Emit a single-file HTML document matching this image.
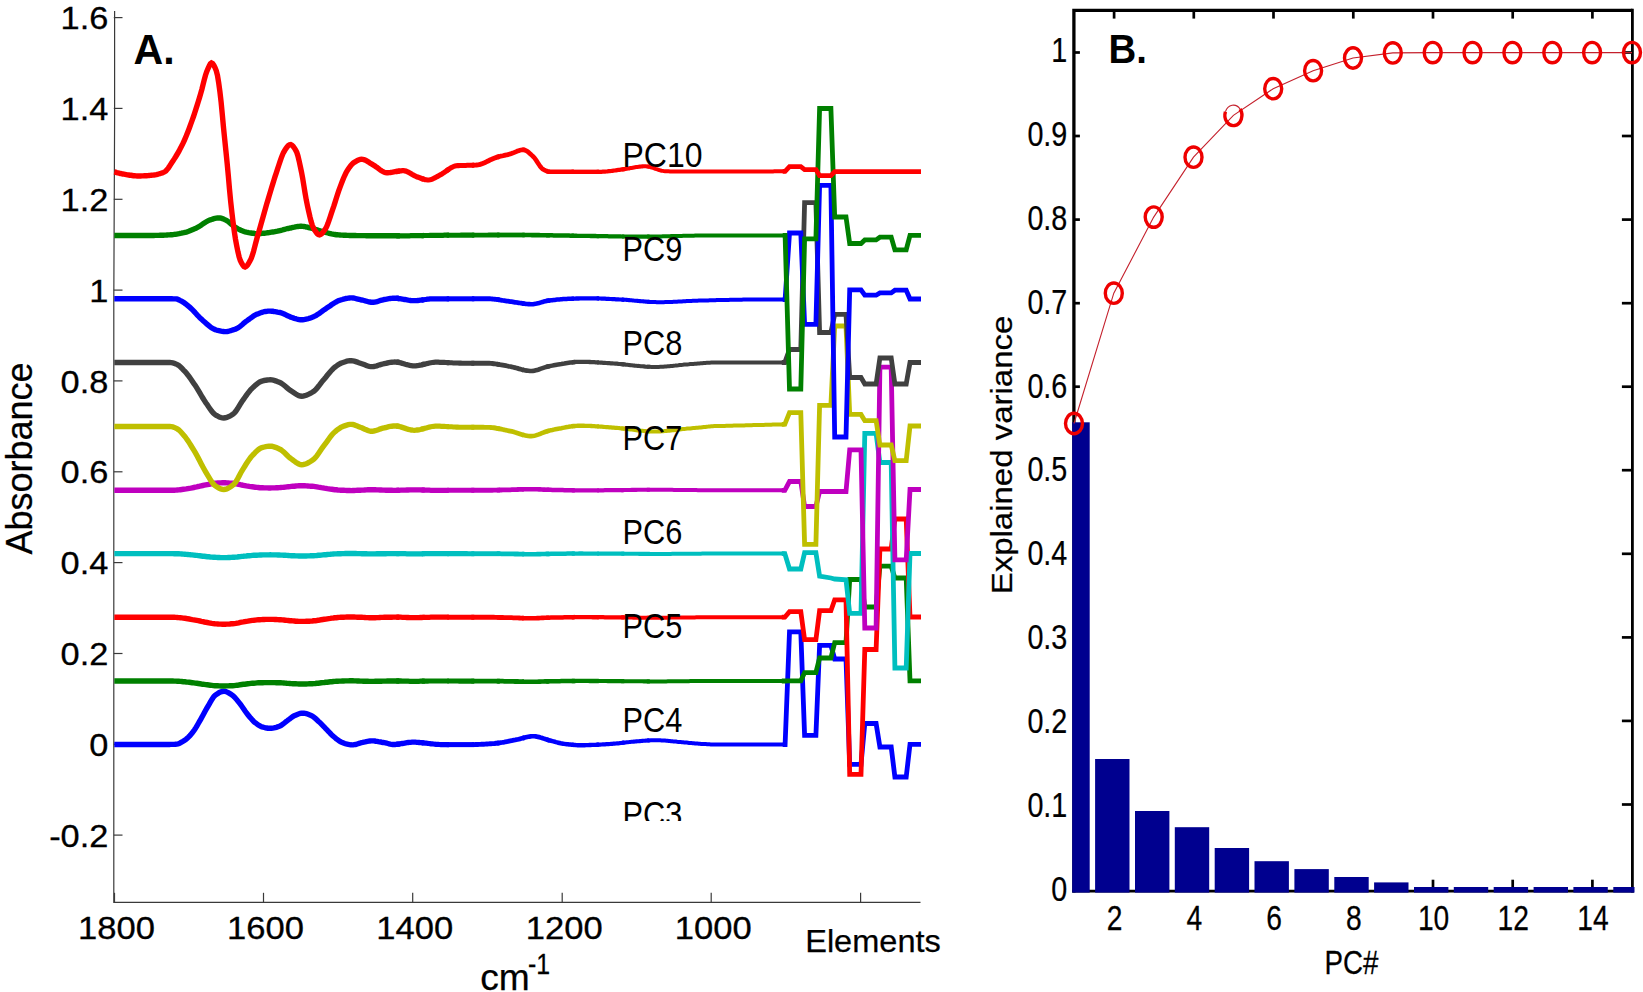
<!DOCTYPE html>
<html lang="en">
<head>
<meta charset="utf-8">
<title>PCA loadings and explained variance</title>
<style>
html,body{margin:0;padding:0;background:#fff;}
body{width:1643px;height:992px;overflow:hidden;}
svg{display:block;}
text{font-family:"Liberation Sans",sans-serif;fill:#000;}
.tk text{font-size:31.8px;stroke:#000;stroke-width:0.3px;}
.tkb text{font-size:34.6px;stroke:#000;stroke-width:0.25px;}
.lab{stroke:#000;stroke-width:0.25px;}
.pc text{font-size:34.6px;}
.bold{font-weight:bold;}
</style>
</head>
<body>
<svg width="1643" height="992" viewBox="0 0 1643 992">
<rect width="1643" height="992" fill="#ffffff"/>
<g id="panelA">
<g stroke="#3a3a3a" stroke-width="1.2" fill="none">
<path d="M114.6 10.9 L114.6 120 L113.8 300 V902.3 H920.5"/>
<path d="M113.8 835.1 h8.7"/>
<path d="M113.8 744.3 h8.7"/>
<path d="M113.8 653.5 h8.7"/>
<path d="M113.8 562.6 h8.7"/>
<path d="M113.8 471.8 h8.7"/>
<path d="M113.8 380.9 h8.7"/>
<path d="M113.8 290.1 h8.7"/>
<path d="M113.8 199.3 h8.7"/>
<path d="M113.8 108.4 h8.7"/>
<path d="M113.8 17.6 h8.7"/>
<path d="M114.5 902.3 v-9.5"/>
<path d="M263.5 902.3 v-9.5"/>
<path d="M412.7 902.3 v-9.5"/>
<path d="M562.2 902.3 v-9.5"/>
<path d="M711.2 902.3 v-9.5"/>
<path d="M860.6 902.3 v-9.5"/>
</g>
<g fill="none" stroke-linejoin="miter" stroke-miterlimit="3" stroke-linecap="butt">
<g stroke="#0000ff">
<path stroke-width="5.40" d="M114.3 744.5 L115.5 744.5 L116.7 744.5 L117.9 744.5 L119.1 744.5 L120.3 744.5 L121.5 744.5 L122.7 744.5 L123.9 744.5 L125.1 744.5 L126.3 744.5 L127.5 744.5 L128.7 744.5 L129.9 744.5 L131.1 744.5 L132.3 744.5 L133.5 744.5 L134.7 744.5 L135.9 744.5 L137.1 744.5 L138.3 744.5 L139.5 744.5 L140.7 744.5 L141.9 744.5 L143.1 744.5 L144.3 744.5 L145.5 744.5 L146.7 744.5 L147.9 744.5 L149.1 744.5 L150.3 744.5 L151.5 744.5 L152.7 744.5 L153.9 744.5 L155.1 744.5 L156.3 744.5 L157.5 744.5 L158.7 744.5 L159.9 744.5 L161.1 744.5 L162.3 744.5 L163.5 744.5 L164.7 744.5 L165.9 744.5 L167.1 744.5 L168.3 744.5 L169.5 744.5 L170.7 744.4 L171.9 744.4 L173.1 744.4 L174.3 744.4 L175.5 744.3 L176.7 744.2 L177.9 743.9 L179.1 743.5 L180.3 742.9 L181.5 742.2 L182.7 741.5 L183.9 740.7 L185.1 739.9 L186.3 739.1 L187.5 738.0 L188.7 736.9 L189.9 735.6 L191.1 734.2 L192.3 732.8 L193.5 731.2 L194.7 729.5 L195.9 727.6 L197.1 725.6 L198.3 723.5 L199.5 721.4 L200.7 719.3 L201.9 717.2 L203.1 715.0 L204.3 712.7 L205.5 710.5 L206.7 708.4 L207.9 706.3 L209.1 704.3 L210.3 702.2 L211.5 700.1 L212.7 698.2 L213.9 696.5 L215.1 695.3 L216.3 694.5 L217.5 693.7 L218.7 692.9 L219.9 692.3 L221.1 691.8 L222.3 691.5 L223.5 691.3 L224.7 691.4 L225.9 691.6 L227.1 692.1 L228.3 692.7 L229.5 693.4 L230.7 694.1 L231.9 694.9 L233.1 695.8 L234.3 696.9 L235.5 698.2 L236.7 699.6 L237.9 701.1 L239.1 702.6 L240.3 704.1 L241.5 705.8 L242.7 707.5 L243.9 709.2 L245.1 711.0 L246.3 712.7 L247.5 714.2 L248.7 715.7 L249.9 717.2 L251.1 718.6 L252.3 720.0 L253.5 721.2 L254.7 722.3 L255.9 723.2 L257.1 724.1 L258.3 725.0 L259.5 725.7 L260.7 726.4 L261.9 726.9 L263.1 727.2 L264.3 727.5 L265.5 727.8 L266.7 728.0 L267.9 728.2 L269.1 728.3 L270.3 728.3 L271.5 728.2 L272.7 728.1 L273.9 727.9 L275.1 727.6 L276.3 727.3 L277.5 726.9 L278.7 726.5 L279.9 726.1 L281.1 725.4 L282.3 724.6 L283.5 723.7 L284.7 722.7 L285.9 721.7 L287.1 720.9 L288.3 720.0 L289.5 719.0 L290.7 718.1 L291.9 717.2 L293.1 716.4 L294.3 715.7 L295.5 715.2 L296.7 714.7 L297.9 714.2 L299.1 713.8 L300.3 713.4 L301.5 713.2 L302.7 713.1 L303.9 713.2 L305.1 713.3 L306.3 713.6 L307.5 714.0 L308.7 714.5 L309.9 715.0 L311.1 715.5 L312.3 716.1 L313.5 716.9 L314.7 717.9 L315.9 718.9 L317.1 720.0 L318.3 721.2 L319.5 722.2 L320.7 723.4 L321.9 724.6 L323.1 725.8 L324.3 727.0 L325.5 728.3 L326.7 729.5 L327.9 730.8 L329.1 732.0 L330.3 733.3 L331.5 734.6 L332.7 735.8 L333.9 736.8 L335.1 737.8 L336.3 738.8 L337.5 739.7 L338.7 740.6 L339.9 741.4 L341.1 742.0 L342.3 742.5 L343.5 743.0 L344.7 743.5 L345.9 743.8 L347.1 744.2 L348.3 744.4 L349.5 744.6 L350.7 744.8 L351.9 744.9 L353.1 744.9 L354.3 744.7 L355.5 744.5 L356.7 744.2 L357.9 743.8 L359.1 743.4 L360.3 743.0 L361.5 742.6 L362.7 742.4 L363.9 742.1 L365.1 741.9 L366.3 741.6 L367.5 741.4 L368.7 741.2 L369.9 741.0 L371.1 740.9 L372.3 740.9 L373.5 740.9 L374.7 741.0 L375.9 741.2 L377.1 741.3 L378.3 741.6 L379.5 741.8 L380.7 742.0 L381.9 742.3 L383.1 742.5 L384.3 742.7 L385.5 742.9 L386.7 743.2 L387.9 743.5 L389.1 743.8 L390.3 744.1 L391.5 744.3 L392.7 744.5 L393.9 744.5 L395.1 744.5 L396.3 744.4 L397.5 744.2 L398.7 744.1 L399.9 743.9"/>
<path stroke-width="5.33" d="M396.3 744.4 L397.5 744.2 L398.7 744.1 L399.9 743.9 L401.1 743.7 L402.3 743.5 L403.5 743.3 L404.7 743.1 L405.9 742.9 L407.1 742.7 L408.3 742.5 L409.5 742.4 L410.7 742.3 L411.9 742.2 L413.1 742.2 L414.3 742.2 L415.5 742.2 L416.7 742.3 L417.9 742.4 L419.1 742.5 L420.3 742.6 L421.5 742.7 L422.7 742.8 L423.9 742.9"/>
<path stroke-width="5.19" d="M421.5 742.7 L422.7 742.8 L423.9 742.9 L425.1 743.1 L426.3 743.2 L427.5 743.3 L428.7 743.5 L429.9 743.6 L431.1 743.8 L432.3 743.9 L433.5 744.0 L434.7 744.2 L435.9 744.3 L437.1 744.4 L438.3 744.4 L439.5 744.5 L440.7 744.6 L441.9 744.6 L443.1 744.6 L444.3 744.6 L445.5 744.6 L446.7 744.6 L447.9 744.6 L449.1 744.6"/>
<path stroke-width="5.05" d="M446.7 744.6 L447.9 744.6 L449.1 744.6 L450.3 744.6 L451.5 744.6 L452.7 744.6 L453.9 744.6 L455.1 744.6 L456.3 744.6 L457.5 744.6 L458.7 744.6 L459.9 744.6 L461.1 744.6 L462.3 744.6 L463.5 744.6 L464.7 744.6 L465.9 744.6 L467.1 744.6 L468.3 744.6 L469.5 744.6 L470.7 744.6 L471.9 744.6 L473.1 744.6 L474.3 744.6"/>
<path stroke-width="4.91" d="M471.9 744.6 L473.1 744.6 L474.3 744.6 L475.5 744.5 L476.7 744.5 L477.9 744.5 L479.1 744.4 L480.3 744.4 L481.5 744.3 L482.7 744.2 L483.9 744.2 L485.1 744.1 L486.3 744.0 L487.5 744.0 L488.7 743.9 L489.9 743.8 L491.1 743.7 L492.3 743.6 L493.5 743.6 L494.7 743.5 L495.9 743.3 L497.1 743.2 L498.3 743.0 L499.5 742.9"/>
<path stroke-width="4.77" d="M497.1 743.2 L498.3 743.0 L499.5 742.9 L500.7 742.7 L501.9 742.5 L503.1 742.3 L504.3 742.1 L505.5 741.8 L506.7 741.6 L507.9 741.4 L509.1 741.1 L510.3 740.9 L511.5 740.7 L512.7 740.4 L513.9 740.2 L515.1 740.0 L516.3 739.7 L517.5 739.5 L518.7 739.2 L519.9 738.9 L521.1 738.5 L522.3 738.2 L523.5 737.9 L524.7 737.6"/>
<path stroke-width="4.63" d="M522.3 738.2 L523.5 737.9 L524.7 737.6 L525.9 737.3 L527.1 737.0 L528.3 736.8 L529.5 736.6 L530.7 736.4 L531.9 736.3 L533.1 736.3 L534.3 736.3 L535.5 736.4 L536.7 736.6 L537.9 736.9 L539.1 737.1 L540.3 737.5 L541.5 737.8 L542.7 738.2 L543.9 738.6 L545.1 739.0 L546.3 739.4 L547.5 739.8 L548.7 740.2 L549.9 740.5"/>
<path stroke-width="4.49" d="M546.3 739.4 L547.5 739.8 L548.7 740.2 L549.9 740.5 L551.1 740.8 L552.3 741.1 L553.5 741.4 L554.7 741.7 L555.9 742.1 L557.1 742.4 L558.3 742.7 L559.5 743.0 L560.7 743.3 L561.9 743.5 L563.1 743.7 L564.3 743.9 L565.5 744.1 L566.7 744.2 L567.9 744.3 L569.1 744.5 L570.3 744.6 L571.5 744.7 L572.7 744.8 L573.9 744.9"/>
<path stroke-width="4.35" d="M571.5 744.7 L572.7 744.8 L573.9 744.9 L575.1 745.0 L576.3 745.1 L577.5 745.2 L578.7 745.2 L579.9 745.2 L581.1 745.2 L582.3 745.2 L583.5 745.2 L584.7 745.2 L585.9 745.1 L587.1 745.1 L588.3 745.1 L589.5 745.0 L590.7 745.0 L591.9 744.9 L593.1 744.9 L594.3 744.8 L595.5 744.8 L596.7 744.7 L597.9 744.7 L599.1 744.6"/>
<path stroke-width="4.21" d="M596.7 744.7 L597.9 744.7 L599.1 744.6 L600.3 744.6 L601.5 744.5 L602.7 744.4 L603.9 744.4 L605.1 744.3 L606.3 744.2 L607.5 744.1 L608.7 744.1 L609.9 744.0 L611.1 743.9 L612.3 743.8 L613.5 743.7 L614.7 743.6 L615.9 743.5 L617.1 743.4 L618.3 743.3 L619.5 743.2 L620.7 743.0 L621.9 742.9 L623.1 742.7 L624.3 742.6"/>
<path stroke-width="4.07" d="M621.9 742.9 L623.1 742.7 L624.3 742.6 L625.5 742.5 L626.7 742.3 L627.9 742.2 L629.1 742.1 L630.3 741.9 L631.5 741.8 L632.7 741.7 L633.9 741.6 L635.1 741.5 L636.3 741.4 L637.5 741.3 L638.7 741.2 L639.9 741.1 L641.1 741.0 L642.3 740.9 L643.5 740.8 L644.7 740.7 L645.9 740.6 L647.1 740.5 L648.3 740.4 L649.5 740.4"/>
<path stroke-width="4.00" d="M647.1 740.5 L648.3 740.4 L649.5 740.4 L650.7 740.3 L651.9 740.3 L653.1 740.2 L654.3 740.2 L655.5 740.2 L656.7 740.2 L657.9 740.2 L659.1 740.3 L660.3 740.3 L661.5 740.4 L662.7 740.5 L663.9 740.6 L665.1 740.6 L666.3 740.7 L667.5 740.8 L668.7 741.0 L669.9 741.1 L671.1 741.2 L672.3 741.3 L673.5 741.4 L674.7 741.5 L675.9 741.6 L677.1 741.8 L678.3 741.9 L679.5 742.0 L680.7 742.1 L681.9 742.2 L683.1 742.3 L684.3 742.4 L685.5 742.5 L686.7 742.6 L687.9 742.7 L689.1 742.9 L690.3 743.0 L691.5 743.1 L692.7 743.2 L693.9 743.3 L695.1 743.4 L696.3 743.5 L697.5 743.6 L698.7 743.7 L699.9 743.8 L701.1 743.9 L702.3 743.9 L703.5 744.0 L704.7 744.1 L705.9 744.1 L707.1 744.2 L708.3 744.3 L709.5 744.3 L710.7 744.4 L711.9 744.4 L713.1 744.5 L714.3 744.5 L715.5 744.5 L716.7 744.5 L717.9 744.5 L719.1 744.5 L720.3 744.5 L721.5 744.5 L722.7 744.5 L723.9 744.5 L725.1 744.5 L726.3 744.5 L727.5 744.5 L728.7 744.5 L729.9 744.5 L731.1 744.5 L732.3 744.5 L733.5 744.5 L734.7 744.5 L735.9 744.5 L737.1 744.5 L738.3 744.5 L739.5 744.5 L740.7 744.5 L741.9 744.5 L743.1 744.5 L744.3 744.5 L745.5 744.5 L746.7 744.5 L747.9 744.5 L749.1 744.5 L750.3 744.5 L751.5 744.5 L752.7 744.5 L753.9 744.5 L755.1 744.5 L756.3 744.5 L757.5 744.5 L758.7 744.5 L759.9 744.5 L761.1 744.5 L762.3 744.5 L763.5 744.5 L764.7 744.5 L765.9 744.5 L767.1 744.5 L768.3 744.5 L769.5 744.5 L770.7 744.5 L771.9 744.5 L773.1 744.5 L774.3 744.5 L775.5 744.5 L776.7 744.5 L777.9 744.5 L779.1 744.5 L780.3 744.5 L781.5 744.5 L782.7 744.5 L783.9 744.5 L785.1 744.5"/>
<path stroke-width="4.80" d="M782.7 744.5 L783.9 744.5 L785.1 744.5 L789.5 631.8 L800.8 631.8 L804.6 735.3 L815.9 735.3 L819.6 645.4 L830.9 645.4 L834.7 659.0 L846.0 659.0 L849.7 764.3 L861.0 764.3 L864.8 723.5 L876.1 723.5 L879.9 747.0 L891.2 747.0 L894.9 777.0 L906.2 777.0 L910.0 744.3 L921.0 744.3"/>
</g>
<g stroke="#008000">
<path stroke-width="5.40" d="M114.3 681.0 L115.8 681.0 L117.3 681.0 L118.8 681.0 L120.3 681.0 L121.8 681.0 L123.3 681.0 L124.8 681.0 L126.3 681.0 L127.8 681.0 L129.3 681.0 L130.8 681.0 L132.3 681.0 L133.8 681.0 L135.3 681.0 L136.8 681.0 L138.3 681.0 L139.8 681.0 L141.3 681.0 L142.8 681.0 L144.3 681.0 L145.8 681.0 L147.3 681.0 L148.8 681.0 L150.3 681.0 L151.8 681.0 L153.3 681.0 L154.8 681.0 L156.3 681.0 L157.8 681.0 L159.3 681.0 L160.8 681.0 L162.3 681.0 L163.8 681.0 L165.3 681.0 L166.8 681.0 L168.3 681.0 L169.8 681.0 L171.3 681.0 L172.8 681.0 L174.3 681.1 L175.8 681.1 L177.3 681.2 L178.8 681.3 L180.3 681.4 L181.8 681.5 L183.3 681.7 L184.8 681.8 L186.3 682.0 L187.8 682.1 L189.3 682.3 L190.8 682.5 L192.3 682.7 L193.8 682.9 L195.3 683.1 L196.8 683.3 L198.3 683.5 L199.8 683.7 L201.3 684.0 L202.8 684.2 L204.3 684.4 L205.8 684.6 L207.3 684.8 L208.8 685.0 L210.3 685.2 L211.8 685.4 L213.3 685.6 L214.8 685.7 L216.3 685.8 L217.8 685.8 L219.3 685.9 L220.8 686.0 L222.3 686.0 L223.8 686.0 L225.3 686.0 L226.8 685.9 L228.3 685.9 L229.8 685.8 L231.3 685.7 L232.8 685.7 L234.3 685.6 L235.8 685.4 L237.3 685.2 L238.8 685.0 L240.3 684.7 L241.8 684.5 L243.3 684.3 L244.8 684.2 L246.3 684.0 L247.8 683.8 L249.3 683.6 L250.8 683.4 L252.3 683.3 L253.8 683.2 L255.3 683.1 L256.8 682.9 L258.3 682.8 L259.8 682.8 L261.3 682.7 L262.8 682.7 L264.3 682.6 L265.8 682.6 L267.3 682.6 L268.8 682.6 L270.3 682.6 L271.8 682.6 L273.3 682.6 L274.8 682.6 L276.3 682.7 L277.8 682.7 L279.3 682.8 L280.8 682.8 L282.3 682.9 L283.8 683.0 L285.3 683.1 L286.8 683.3 L288.3 683.4 L289.8 683.5 L291.3 683.6 L292.8 683.7 L294.3 683.7 L295.8 683.8 L297.3 683.9 L298.8 684.0 L300.3 684.0 L301.8 684.0 L303.3 684.0 L304.8 684.0 L306.3 684.0 L307.8 683.9 L309.3 683.8 L310.8 683.8 L312.3 683.7 L313.8 683.6 L315.3 683.5 L316.8 683.3 L318.3 683.2 L319.8 683.0 L321.3 682.8 L322.8 682.6 L324.3 682.5 L325.8 682.3 L327.3 682.2 L328.8 682.0 L330.3 681.8 L331.8 681.7 L333.3 681.5 L334.8 681.4 L336.3 681.3 L337.8 681.2 L339.3 681.1 L340.8 681.1 L342.3 681.0 L343.8 681.0 L345.3 680.9 L346.8 680.9 L348.3 680.9 L349.8 680.8 L351.3 680.8 L352.8 680.8 L354.3 680.9 L355.8 680.9 L357.3 681.0 L358.8 681.0 L360.3 681.1 L361.8 681.1 L363.3 681.2 L364.8 681.2 L366.3 681.3 L367.8 681.3 L369.3 681.4 L370.8 681.4 L372.3 681.4 L373.8 681.4 L375.3 681.3 L376.8 681.3 L378.3 681.3 L379.8 681.2 L381.3 681.2 L382.8 681.1 L384.3 681.1 L385.8 681.1 L387.3 681.0 L388.8 681.0 L390.3 681.0 L391.8 681.0 L393.3 681.0 L394.8 681.0 L396.3 681.0 L397.8 681.0 L399.3 681.0"/>
<path stroke-width="5.33" d="M396.3 681.0 L397.8 681.0 L399.3 681.0 L400.8 681.0 L402.3 681.1 L403.8 681.1 L405.3 681.2 L406.8 681.2 L408.3 681.2 L409.8 681.3 L411.3 681.3 L412.8 681.3 L414.3 681.3 L415.8 681.3 L417.3 681.3 L418.8 681.3 L420.3 681.2 L421.8 681.2 L423.3 681.2 L424.8 681.1"/>
<path stroke-width="5.19" d="M421.8 681.2 L423.3 681.2 L424.8 681.1 L426.3 681.1 L427.8 681.1 L429.3 681.0 L430.8 681.0 L432.3 681.0 L433.8 681.0 L435.3 681.0 L436.8 681.0 L438.3 681.0 L439.8 681.0 L441.3 681.0 L442.8 681.0 L444.3 681.0 L445.8 681.0 L447.3 681.0 L448.8 681.0"/>
<path stroke-width="5.05" d="M447.3 681.0 L448.8 681.0 L450.3 681.0 L451.8 681.0 L453.3 681.0 L454.8 681.0 L456.3 681.0 L457.8 681.0 L459.3 681.1 L460.8 681.1 L462.3 681.1 L463.8 681.1 L465.3 681.1 L466.8 681.1 L468.3 681.1 L469.8 681.1 L471.3 681.1 L472.8 681.1 L474.3 681.1"/>
<path stroke-width="4.91" d="M471.3 681.1 L472.8 681.1 L474.3 681.1 L475.8 681.1 L477.3 681.1 L478.8 681.1 L480.3 681.1 L481.8 681.1 L483.3 681.1 L484.8 681.1 L486.3 681.1 L487.8 681.1 L489.3 681.1 L490.8 681.1 L492.3 681.1 L493.8 681.1 L495.3 681.1 L496.8 681.1 L498.3 681.2 L499.8 681.2"/>
<path stroke-width="4.77" d="M496.8 681.1 L498.3 681.2 L499.8 681.2 L501.3 681.2 L502.8 681.2 L504.3 681.3 L505.8 681.3 L507.3 681.3 L508.8 681.3 L510.3 681.4 L511.8 681.4 L513.3 681.4 L514.8 681.5 L516.3 681.5 L517.8 681.5 L519.3 681.6 L520.8 681.6 L522.3 681.6 L523.8 681.7"/>
<path stroke-width="4.63" d="M522.3 681.6 L523.8 681.7 L525.3 681.7 L526.8 681.7 L528.3 681.8 L529.8 681.8 L531.3 681.8 L532.8 681.8 L534.3 681.7 L535.8 681.7 L537.3 681.7 L538.8 681.6 L540.3 681.6 L541.8 681.5 L543.3 681.5 L544.8 681.4 L546.3 681.4 L547.8 681.4 L549.3 681.3"/>
<path stroke-width="4.49" d="M546.3 681.4 L547.8 681.4 L549.3 681.3 L550.8 681.3 L552.3 681.3 L553.8 681.2 L555.3 681.2 L556.8 681.2 L558.3 681.2 L559.8 681.2 L561.3 681.1 L562.8 681.1 L564.3 681.1 L565.8 681.1 L567.3 681.0 L568.8 681.0 L570.3 681.0 L571.8 681.0 L573.3 681.0 L574.8 681.0"/>
<path stroke-width="4.35" d="M571.8 681.0 L573.3 681.0 L574.8 681.0 L576.3 680.9 L577.8 680.9 L579.3 680.9 L580.8 680.9 L582.3 680.9 L583.8 680.9 L585.3 680.9 L586.8 680.9 L588.3 680.9 L589.8 681.0 L591.3 681.0 L592.8 681.0 L594.3 681.0 L595.8 681.0 L597.3 681.0 L598.8 681.0"/>
<path stroke-width="4.21" d="M597.3 681.0 L598.8 681.0 L600.3 681.0 L601.8 681.0 L603.3 681.0 L604.8 681.0 L606.3 681.0 L607.8 681.1 L609.3 681.1 L610.8 681.1 L612.3 681.1 L613.8 681.1 L615.3 681.1 L616.8 681.1 L618.3 681.1 L619.8 681.1 L621.3 681.1 L622.8 681.2 L624.3 681.2"/>
<path stroke-width="4.07" d="M621.3 681.1 L622.8 681.2 L624.3 681.2 L625.8 681.2 L627.3 681.2 L628.8 681.2 L630.3 681.2 L631.8 681.2 L633.3 681.3 L634.8 681.3 L636.3 681.3 L637.8 681.3 L639.3 681.3 L640.8 681.3 L642.3 681.3 L643.8 681.4 L645.3 681.4 L646.8 681.4 L648.3 681.4 L649.8 681.4"/>
<path stroke-width="4.00" d="M646.8 681.4 L648.3 681.4 L649.8 681.4 L651.3 681.4 L652.8 681.4 L654.3 681.4 L655.8 681.4 L657.3 681.4 L658.8 681.4 L660.3 681.4 L661.8 681.4 L663.3 681.4 L664.8 681.4 L666.3 681.4 L667.8 681.3 L669.3 681.3 L670.8 681.3 L672.3 681.3 L673.8 681.3 L675.3 681.3 L676.8 681.3 L678.3 681.2 L679.8 681.2 L681.3 681.2 L682.8 681.2 L684.3 681.2 L685.8 681.2 L687.3 681.2 L688.8 681.2 L690.3 681.1 L691.8 681.1 L693.3 681.1 L694.8 681.1 L696.3 681.1 L697.8 681.1 L699.3 681.1 L700.8 681.1 L702.3 681.1 L703.8 681.0 L705.3 681.0 L706.8 681.0 L708.3 681.0 L709.8 681.0 L711.3 681.0 L712.8 681.0 L714.3 681.0 L715.8 681.0 L717.3 681.0 L718.8 681.0 L720.3 681.0 L721.8 681.0 L723.3 681.0 L724.8 681.0 L726.3 681.0 L727.8 681.0 L729.3 681.0 L730.8 681.0 L732.3 681.0 L733.8 681.0 L735.3 681.0 L736.8 681.0 L738.3 681.0 L739.8 681.0 L741.3 681.0 L742.8 681.0 L744.3 681.0 L745.8 681.0 L747.3 681.0 L748.8 681.0 L750.3 681.0 L751.8 681.0 L753.3 681.0 L754.8 681.0 L756.3 681.0 L757.8 681.0 L759.3 681.0 L760.8 681.0 L762.3 681.0 L763.8 681.0 L765.3 681.0 L766.8 681.0 L768.3 681.0 L769.8 681.0 L771.3 681.0 L772.8 681.0 L774.3 681.0 L775.8 681.0 L777.3 681.0 L778.8 681.0 L780.3 681.0 L781.8 681.0 L783.3 681.0 L784.8 681.0"/>
<path stroke-width="4.80" d="M781.8 681.0 L783.3 681.0 L784.8 681.0 L789.5 680.8 L800.8 680.8 L804.6 672.6 L815.9 672.6 L819.6 658.0 L830.9 658.0 L834.7 642.7 L846.0 642.7 L849.7 579.5 L861.0 579.5 L864.8 607.0 L876.1 607.0 L879.9 566.2 L891.2 566.2 L894.9 578.0 L906.2 578.0 L910.0 680.8 L921.0 680.8"/>
</g>
<g stroke="#ff0000">
<path stroke-width="5.40" d="M114.3 617.2 L115.8 617.2 L117.3 617.2 L118.8 617.2 L120.3 617.2 L121.8 617.2 L123.3 617.2 L124.8 617.2 L126.3 617.2 L127.8 617.2 L129.3 617.2 L130.8 617.2 L132.3 617.2 L133.8 617.2 L135.3 617.2 L136.8 617.2 L138.3 617.2 L139.8 617.2 L141.3 617.2 L142.8 617.2 L144.3 617.2 L145.8 617.2 L147.3 617.2 L148.8 617.2 L150.3 617.2 L151.8 617.2 L153.3 617.2 L154.8 617.2 L156.3 617.2 L157.8 617.2 L159.3 617.2 L160.8 617.2 L162.3 617.2 L163.8 617.2 L165.3 617.2 L166.8 617.2 L168.3 617.2 L169.8 617.2 L171.3 617.2 L172.8 617.2 L174.3 617.3 L175.8 617.4 L177.3 617.5 L178.8 617.6 L180.3 617.7 L181.8 617.9 L183.3 618.1 L184.8 618.3 L186.3 618.5 L187.8 618.8 L189.3 619.0 L190.8 619.3 L192.3 619.6 L193.8 619.8 L195.3 620.1 L196.8 620.4 L198.3 620.7 L199.8 621.0 L201.3 621.4 L202.8 621.7 L204.3 622.0 L205.8 622.3 L207.3 622.5 L208.8 622.8 L210.3 623.1 L211.8 623.4 L213.3 623.6 L214.8 623.8 L216.3 623.9 L217.8 624.0 L219.3 624.1 L220.8 624.1 L222.3 624.2 L223.8 624.2 L225.3 624.2 L226.8 624.1 L228.3 624.1 L229.8 624.0 L231.3 623.8 L232.8 623.7 L234.3 623.6 L235.8 623.4 L237.3 623.1 L238.8 622.8 L240.3 622.4 L241.8 622.1 L243.3 621.9 L244.8 621.6 L246.3 621.3 L247.8 621.1 L249.3 620.8 L250.8 620.6 L252.3 620.4 L253.8 620.3 L255.3 620.1 L256.8 619.9 L258.3 619.8 L259.8 619.7 L261.3 619.6 L262.8 619.5 L264.3 619.5 L265.8 619.4 L267.3 619.4 L268.8 619.4 L270.3 619.4 L271.8 619.4 L273.3 619.4 L274.8 619.5 L276.3 619.5 L277.8 619.6 L279.3 619.7 L280.8 619.8 L282.3 619.9 L283.8 620.0 L285.3 620.2 L286.8 620.4 L288.3 620.5 L289.8 620.7 L291.3 620.8 L292.8 620.9 L294.3 621.0 L295.8 621.2 L297.3 621.3 L298.8 621.4 L300.3 621.4 L301.8 621.4 L303.3 621.4 L304.8 621.4 L306.3 621.3 L307.8 621.3 L309.3 621.2 L310.8 621.1 L312.3 621.0 L313.8 620.8 L315.3 620.7 L316.8 620.5 L318.3 620.2 L319.8 620.0 L321.3 619.7 L322.8 619.5 L324.3 619.3 L325.8 619.1 L327.3 618.8 L328.8 618.6 L330.3 618.4 L331.8 618.1 L333.3 618.0 L334.8 617.8 L336.3 617.7 L337.8 617.5 L339.3 617.4 L340.8 617.3 L342.3 617.2 L343.8 617.2 L345.3 617.1 L346.8 617.0 L348.3 617.0 L349.8 617.0 L351.3 617.0 L352.8 617.0 L354.3 617.0 L355.8 617.1 L357.3 617.2 L358.8 617.2 L360.3 617.3 L361.8 617.3 L363.3 617.4 L364.8 617.5 L366.3 617.6 L367.8 617.6 L369.3 617.7 L370.8 617.7 L372.3 617.7 L373.8 617.7 L375.3 617.7 L376.8 617.6 L378.3 617.6 L379.8 617.5 L381.3 617.4 L382.8 617.4 L384.3 617.3 L385.8 617.3 L387.3 617.3 L388.8 617.2 L390.3 617.2 L391.8 617.2 L393.3 617.1 L394.8 617.1 L396.3 617.1 L397.8 617.2 L399.3 617.2"/>
<path stroke-width="5.33" d="M396.3 617.1 L397.8 617.2 L399.3 617.2 L400.8 617.2 L402.3 617.3 L403.8 617.4 L405.3 617.4 L406.8 617.5 L408.3 617.5 L409.8 617.6 L411.3 617.6 L412.8 617.6 L414.3 617.6 L415.8 617.6 L417.3 617.6 L418.8 617.6 L420.3 617.5 L421.8 617.5 L423.3 617.4 L424.8 617.4"/>
<path stroke-width="5.19" d="M421.8 617.5 L423.3 617.4 L424.8 617.4 L426.3 617.4 L427.8 617.3 L429.3 617.3 L430.8 617.2 L432.3 617.2 L433.8 617.2 L435.3 617.2 L436.8 617.2 L438.3 617.2 L439.8 617.2 L441.3 617.2 L442.8 617.2 L444.3 617.2 L445.8 617.2 L447.3 617.2 L448.8 617.2"/>
<path stroke-width="5.05" d="M447.3 617.2 L448.8 617.2 L450.3 617.2 L451.8 617.2 L453.3 617.2 L454.8 617.3 L456.3 617.3 L457.8 617.3 L459.3 617.3 L460.8 617.3 L462.3 617.3 L463.8 617.3 L465.3 617.3 L466.8 617.3 L468.3 617.3 L469.8 617.3 L471.3 617.3 L472.8 617.3 L474.3 617.3"/>
<path stroke-width="4.91" d="M471.3 617.3 L472.8 617.3 L474.3 617.3 L475.8 617.3 L477.3 617.3 L478.8 617.3 L480.3 617.3 L481.8 617.3 L483.3 617.3 L484.8 617.3 L486.3 617.3 L487.8 617.3 L489.3 617.3 L490.8 617.3 L492.3 617.3 L493.8 617.3 L495.3 617.4 L496.8 617.4 L498.3 617.4 L499.8 617.5"/>
<path stroke-width="4.77" d="M496.8 617.4 L498.3 617.4 L499.8 617.5 L501.3 617.5 L502.8 617.5 L504.3 617.6 L505.8 617.6 L507.3 617.6 L508.8 617.7 L510.3 617.7 L511.8 617.7 L513.3 617.8 L514.8 617.8 L516.3 617.9 L517.8 617.9 L519.3 618.0 L520.8 618.1 L522.3 618.1 L523.8 618.2"/>
<path stroke-width="4.63" d="M522.3 618.1 L523.8 618.2 L525.3 618.2 L526.8 618.2 L528.3 618.3 L529.8 618.3 L531.3 618.3 L532.8 618.3 L534.3 618.2 L535.8 618.2 L537.3 618.1 L538.8 618.1 L540.3 618.0 L541.8 617.9 L543.3 617.9 L544.8 617.8 L546.3 617.8 L547.8 617.7 L549.3 617.7"/>
<path stroke-width="4.49" d="M546.3 617.8 L547.8 617.7 L549.3 617.7 L550.8 617.6 L552.3 617.6 L553.8 617.5 L555.3 617.5 L556.8 617.5 L558.3 617.4 L559.8 617.4 L561.3 617.4 L562.8 617.4 L564.3 617.3 L565.8 617.3 L567.3 617.3 L568.8 617.2 L570.3 617.2 L571.8 617.2 L573.3 617.2 L574.8 617.1"/>
<path stroke-width="4.35" d="M571.8 617.2 L573.3 617.2 L574.8 617.1 L576.3 617.1 L577.8 617.1 L579.3 617.1 L580.8 617.1 L582.3 617.1 L583.8 617.1 L585.3 617.1 L586.8 617.1 L588.3 617.1 L589.8 617.1 L591.3 617.1 L592.8 617.2 L594.3 617.2 L595.8 617.2 L597.3 617.2 L598.8 617.2"/>
<path stroke-width="4.21" d="M597.3 617.2 L598.8 617.2 L600.3 617.2 L601.8 617.2 L603.3 617.2 L604.8 617.3 L606.3 617.3 L607.8 617.3 L609.3 617.3 L610.8 617.3 L612.3 617.3 L613.8 617.3 L615.3 617.3 L616.8 617.4 L618.3 617.4 L619.8 617.4 L621.3 617.4 L622.8 617.4 L624.3 617.4"/>
<path stroke-width="4.07" d="M621.3 617.4 L622.8 617.4 L624.3 617.4 L625.8 617.5 L627.3 617.5 L628.8 617.5 L630.3 617.5 L631.8 617.5 L633.3 617.6 L634.8 617.6 L636.3 617.6 L637.8 617.6 L639.3 617.6 L640.8 617.7 L642.3 617.7 L643.8 617.7 L645.3 617.7 L646.8 617.7 L648.3 617.7 L649.8 617.7"/>
<path stroke-width="4.00" d="M646.8 617.7 L648.3 617.7 L649.8 617.7 L651.3 617.8 L652.8 617.8 L654.3 617.8 L655.8 617.8 L657.3 617.8 L658.8 617.8 L660.3 617.7 L661.8 617.7 L663.3 617.7 L664.8 617.7 L666.3 617.7 L667.8 617.7 L669.3 617.7 L670.8 617.6 L672.3 617.6 L673.8 617.6 L675.3 617.6 L676.8 617.6 L678.3 617.5 L679.8 617.5 L681.3 617.5 L682.8 617.5 L684.3 617.5 L685.8 617.5 L687.3 617.4 L688.8 617.4 L690.3 617.4 L691.8 617.4 L693.3 617.4 L694.8 617.4 L696.3 617.3 L697.8 617.3 L699.3 617.3 L700.8 617.3 L702.3 617.3 L703.8 617.3 L705.3 617.3 L706.8 617.2 L708.3 617.2 L709.8 617.2 L711.3 617.2 L712.8 617.2 L714.3 617.2 L715.8 617.2 L717.3 617.2 L718.8 617.2 L720.3 617.2 L721.8 617.2 L723.3 617.2 L724.8 617.2 L726.3 617.2 L727.8 617.2 L729.3 617.2 L730.8 617.2 L732.3 617.2 L733.8 617.2 L735.3 617.2 L736.8 617.2 L738.3 617.2 L739.8 617.2 L741.3 617.2 L742.8 617.2 L744.3 617.2 L745.8 617.2 L747.3 617.2 L748.8 617.2 L750.3 617.2 L751.8 617.2 L753.3 617.2 L754.8 617.2 L756.3 617.2 L757.8 617.2 L759.3 617.2 L760.8 617.2 L762.3 617.2 L763.8 617.2 L765.3 617.2 L766.8 617.2 L768.3 617.2 L769.8 617.2 L771.3 617.2 L772.8 617.2 L774.3 617.2 L775.8 617.2 L777.3 617.2 L778.8 617.2 L780.3 617.2 L781.8 617.2 L783.3 617.2 L784.8 617.2"/>
<path stroke-width="4.80" d="M781.8 617.2 L783.3 617.2 L784.8 617.2 L789.5 611.6 L800.8 611.6 L804.6 639.7 L815.9 639.7 L819.6 610.7 L830.9 610.7 L834.7 599.8 L846.0 599.8 L849.7 774.3 L861.0 774.3 L864.8 649.5 L876.1 649.5 L879.9 549.0 L891.2 549.0 L894.9 519.0 L906.2 519.0 L910.0 617.0 L921.0 617.0"/>
</g>
<g stroke="#00bfbf">
<path stroke-width="5.40" d="M114.3 553.6 L115.8 553.6 L117.3 553.6 L118.8 553.6 L120.3 553.6 L121.8 553.6 L123.3 553.6 L124.8 553.6 L126.3 553.6 L127.8 553.6 L129.3 553.6 L130.8 553.6 L132.3 553.6 L133.8 553.6 L135.3 553.6 L136.8 553.6 L138.3 553.6 L139.8 553.6 L141.3 553.6 L142.8 553.6 L144.3 553.6 L145.8 553.6 L147.3 553.6 L148.8 553.6 L150.3 553.6 L151.8 553.6 L153.3 553.6 L154.8 553.6 L156.3 553.6 L157.8 553.6 L159.3 553.6 L160.8 553.6 L162.3 553.6 L163.8 553.6 L165.3 553.6 L166.8 553.6 L168.3 553.6 L169.8 553.6 L171.3 553.6 L172.8 553.6 L174.3 553.7 L175.8 553.7 L177.3 553.7 L178.8 553.8 L180.3 553.9 L181.8 554.0 L183.3 554.1 L184.8 554.2 L186.3 554.4 L187.8 554.5 L189.3 554.6 L190.8 554.8 L192.3 554.9 L193.8 555.1 L195.3 555.3 L196.8 555.4 L198.3 555.6 L199.8 555.8 L201.3 556.0 L202.8 556.2 L204.3 556.3 L205.8 556.5 L207.3 556.7 L208.8 556.8 L210.3 557.0 L211.8 557.1 L213.3 557.2 L214.8 557.3 L216.3 557.4 L217.8 557.5 L219.3 557.5 L220.8 557.6 L222.3 557.6 L223.8 557.6 L225.3 557.6 L226.8 557.6 L228.3 557.5 L229.8 557.5 L231.3 557.4 L232.8 557.3 L234.3 557.2 L235.8 557.1 L237.3 557.0 L238.8 556.8 L240.3 556.6 L241.8 556.4 L243.3 556.3 L244.8 556.1 L246.3 556.0 L247.8 555.8 L249.3 555.7 L250.8 555.6 L252.3 555.4 L253.8 555.3 L255.3 555.2 L256.8 555.2 L258.3 555.1 L259.8 555.0 L261.3 555.0 L262.8 554.9 L264.3 554.9 L265.8 554.9 L267.3 554.9 L268.8 554.9 L270.3 554.8 L271.8 554.9 L273.3 554.9 L274.8 554.9 L276.3 554.9 L277.8 555.0 L279.3 555.0 L280.8 555.1 L282.3 555.1 L283.8 555.2 L285.3 555.3 L286.8 555.4 L288.3 555.5 L289.8 555.6 L291.3 555.7 L292.8 555.7 L294.3 555.8 L295.8 555.9 L297.3 555.9 L298.8 556.0 L300.3 556.0 L301.8 556.0 L303.3 556.0 L304.8 556.0 L306.3 556.0 L307.8 555.9 L309.3 555.9 L310.8 555.8 L312.3 555.7 L313.8 555.7 L315.3 555.6 L316.8 555.5 L318.3 555.3 L319.8 555.2 L321.3 555.1 L322.8 554.9 L324.3 554.8 L325.8 554.7 L327.3 554.5 L328.8 554.4 L330.3 554.3 L331.8 554.1 L333.3 554.0 L334.8 553.9 L336.3 553.9 L337.8 553.8 L339.3 553.7 L340.8 553.7 L342.3 553.6 L343.8 553.6 L345.3 553.5 L346.8 553.5 L348.3 553.5 L349.8 553.5 L351.3 553.5 L352.8 553.5 L354.3 553.5 L355.8 553.5 L357.3 553.6 L358.8 553.6 L360.3 553.6 L361.8 553.7 L363.3 553.7 L364.8 553.8 L366.3 553.8 L367.8 553.9 L369.3 553.9 L370.8 553.9 L372.3 553.9 L373.8 553.9 L375.3 553.9 L376.8 553.8 L378.3 553.8 L379.8 553.8 L381.3 553.7 L382.8 553.7 L384.3 553.7 L385.8 553.7 L387.3 553.6 L388.8 553.6 L390.3 553.6 L391.8 553.6 L393.3 553.6 L394.8 553.6 L396.3 553.6 L397.8 553.6 L399.3 553.6"/>
<path stroke-width="5.33" d="M396.3 553.6 L397.8 553.6 L399.3 553.6 L400.8 553.6 L402.3 553.7 L403.8 553.7 L405.3 553.7 L406.8 553.8 L408.3 553.8 L409.8 553.8 L411.3 553.8 L412.8 553.8 L414.3 553.8 L415.8 553.8 L417.3 553.8 L418.8 553.8 L420.3 553.8 L421.8 553.8 L423.3 553.7 L424.8 553.7"/>
<path stroke-width="5.19" d="M421.8 553.8 L423.3 553.7 L424.8 553.7 L426.3 553.7 L427.8 553.7 L429.3 553.6 L430.8 553.6 L432.3 553.6 L433.8 553.6 L435.3 553.6 L436.8 553.6 L438.3 553.6 L439.8 553.6 L441.3 553.6 L442.8 553.6 L444.3 553.6 L445.8 553.6 L447.3 553.6 L448.8 553.6"/>
<path stroke-width="5.05" d="M447.3 553.6 L448.8 553.6 L450.3 553.6 L451.8 553.6 L453.3 553.6 L454.8 553.6 L456.3 553.6 L457.8 553.6 L459.3 553.6 L460.8 553.6 L462.3 553.6 L463.8 553.6 L465.3 553.6 L466.8 553.6 L468.3 553.7 L469.8 553.7 L471.3 553.7 L472.8 553.7 L474.3 553.7"/>
<path stroke-width="4.91" d="M471.3 553.7 L472.8 553.7 L474.3 553.7 L475.8 553.7 L477.3 553.7 L478.8 553.7 L480.3 553.7 L481.8 553.7 L483.3 553.7 L484.8 553.7 L486.3 553.7 L487.8 553.7 L489.3 553.7 L490.8 553.7 L492.3 553.7 L493.8 553.7 L495.3 553.7 L496.8 553.7 L498.3 553.7 L499.8 553.7"/>
<path stroke-width="4.77" d="M496.8 553.7 L498.3 553.7 L499.8 553.7 L501.3 553.8 L502.8 553.8 L504.3 553.8 L505.8 553.8 L507.3 553.9 L508.8 553.9 L510.3 553.9 L511.8 553.9 L513.3 553.9 L514.8 554.0 L516.3 554.0 L517.8 554.0 L519.3 554.1 L520.8 554.1 L522.3 554.1 L523.8 554.1"/>
<path stroke-width="4.63" d="M522.3 554.1 L523.8 554.1 L525.3 554.2 L526.8 554.2 L528.3 554.2 L529.8 554.2 L531.3 554.2 L532.8 554.2 L534.3 554.2 L535.8 554.2 L537.3 554.1 L538.8 554.1 L540.3 554.1 L541.8 554.0 L543.3 554.0 L544.8 554.0 L546.3 553.9 L547.8 553.9 L549.3 553.9"/>
<path stroke-width="4.49" d="M546.3 553.9 L547.8 553.9 L549.3 553.9 L550.8 553.8 L552.3 553.8 L553.8 553.8 L555.3 553.8 L556.8 553.8 L558.3 553.7 L559.8 553.7 L561.3 553.7 L562.8 553.7 L564.3 553.7 L565.8 553.7 L567.3 553.6 L568.8 553.6 L570.3 553.6 L571.8 553.6 L573.3 553.6 L574.8 553.6"/>
<path stroke-width="4.35" d="M571.8 553.6 L573.3 553.6 L574.8 553.6 L576.3 553.6 L577.8 553.6 L579.3 553.5 L580.8 553.5 L582.3 553.5 L583.8 553.6 L585.3 553.6 L586.8 553.6 L588.3 553.6 L589.8 553.6 L591.3 553.6 L592.8 553.6 L594.3 553.6 L595.8 553.6 L597.3 553.6 L598.8 553.6"/>
<path stroke-width="4.21" d="M597.3 553.6 L598.8 553.6 L600.3 553.6 L601.8 553.6 L603.3 553.6 L604.8 553.6 L606.3 553.6 L607.8 553.6 L609.3 553.7 L610.8 553.7 L612.3 553.7 L613.8 553.7 L615.3 553.7 L616.8 553.7 L618.3 553.7 L619.8 553.7 L621.3 553.7 L622.8 553.7 L624.3 553.7"/>
<path stroke-width="4.07" d="M621.3 553.7 L622.8 553.7 L624.3 553.7 L625.8 553.7 L627.3 553.8 L628.8 553.8 L630.3 553.8 L631.8 553.8 L633.3 553.8 L634.8 553.8 L636.3 553.8 L637.8 553.8 L639.3 553.9 L640.8 553.9 L642.3 553.9 L643.8 553.9 L645.3 553.9 L646.8 553.9 L648.3 553.9 L649.8 553.9"/>
<path stroke-width="4.00" d="M646.8 553.9 L648.3 553.9 L649.8 553.9 L651.3 553.9 L652.8 553.9 L654.3 553.9 L655.8 553.9 L657.3 553.9 L658.8 553.9 L660.3 553.9 L661.8 553.9 L663.3 553.9 L664.8 553.9 L666.3 553.9 L667.8 553.9 L669.3 553.9 L670.8 553.9 L672.3 553.8 L673.8 553.8 L675.3 553.8 L676.8 553.8 L678.3 553.8 L679.8 553.8 L681.3 553.8 L682.8 553.8 L684.3 553.8 L685.8 553.7 L687.3 553.7 L688.8 553.7 L690.3 553.7 L691.8 553.7 L693.3 553.7 L694.8 553.7 L696.3 553.7 L697.8 553.7 L699.3 553.7 L700.8 553.7 L702.3 553.6 L703.8 553.6 L705.3 553.6 L706.8 553.6 L708.3 553.6 L709.8 553.6 L711.3 553.6 L712.8 553.6 L714.3 553.6 L715.8 553.6 L717.3 553.6 L718.8 553.6 L720.3 553.6 L721.8 553.6 L723.3 553.6 L724.8 553.6 L726.3 553.6 L727.8 553.6 L729.3 553.6 L730.8 553.6 L732.3 553.6 L733.8 553.6 L735.3 553.6 L736.8 553.6 L738.3 553.6 L739.8 553.6 L741.3 553.6 L742.8 553.6 L744.3 553.6 L745.8 553.6 L747.3 553.6 L748.8 553.6 L750.3 553.6 L751.8 553.6 L753.3 553.6 L754.8 553.6 L756.3 553.6 L757.8 553.6 L759.3 553.6 L760.8 553.6 L762.3 553.6 L763.8 553.6 L765.3 553.6 L766.8 553.6 L768.3 553.6 L769.8 553.6 L771.3 553.6 L772.8 553.6 L774.3 553.6 L775.8 553.6 L777.3 553.6 L778.8 553.6 L780.3 553.6 L781.8 553.6 L783.3 553.6 L784.8 553.6"/>
<path stroke-width="4.80" d="M781.8 553.6 L783.3 553.6 L784.8 553.6 L789.5 569.0 L800.8 569.0 L804.6 552.6 L815.9 552.6 L819.6 576.2 L830.9 578.0 L834.7 579.0 L846.0 579.8 L849.7 613.4 L861.0 613.4 L864.8 433.4 L876.1 433.4 L879.9 462.5 L891.2 462.5 L894.9 668.0 L906.2 668.0 L910.0 553.5 L921.0 553.5"/>
</g>
<g stroke="#bf00bf">
<path stroke-width="5.40" d="M114.3 490.3 L115.8 490.3 L117.3 490.3 L118.8 490.3 L120.3 490.3 L121.8 490.3 L123.3 490.3 L124.8 490.3 L126.3 490.3 L127.8 490.3 L129.3 490.3 L130.8 490.3 L132.3 490.3 L133.8 490.3 L135.3 490.3 L136.8 490.3 L138.3 490.3 L139.8 490.3 L141.3 490.3 L142.8 490.3 L144.3 490.3 L145.8 490.3 L147.3 490.3 L148.8 490.3 L150.3 490.3 L151.8 490.3 L153.3 490.3 L154.8 490.3 L156.3 490.3 L157.8 490.3 L159.3 490.3 L160.8 490.3 L162.3 490.3 L163.8 490.3 L165.3 490.3 L166.8 490.3 L168.3 490.3 L169.8 490.3 L171.3 490.3 L172.8 490.3 L174.3 490.2 L175.8 490.1 L177.3 490.0 L178.8 489.9 L180.3 489.7 L181.8 489.5 L183.3 489.3 L184.8 489.1 L186.3 488.9 L187.8 488.6 L189.3 488.3 L190.8 488.1 L192.3 487.8 L193.8 487.5 L195.3 487.2 L196.8 486.9 L198.3 486.5 L199.8 486.2 L201.3 485.8 L202.8 485.5 L204.3 485.2 L205.8 484.9 L207.3 484.6 L208.8 484.3 L210.3 484.0 L211.8 483.7 L213.3 483.5 L214.8 483.3 L216.3 483.2 L217.8 483.0 L219.3 482.9 L220.8 482.9 L222.3 482.8 L223.8 482.8 L225.3 482.8 L226.8 482.9 L228.3 483.0 L229.8 483.1 L231.3 483.2 L232.8 483.3 L234.3 483.5 L235.8 483.7 L237.3 484.0 L238.8 484.3 L240.3 484.7 L241.8 485.0 L243.3 485.3 L244.8 485.6 L246.3 485.9 L247.8 486.1 L249.3 486.4 L250.8 486.6 L252.3 486.8 L253.8 487.0 L255.3 487.2 L256.8 487.4 L258.3 487.5 L259.8 487.7 L261.3 487.8 L262.8 487.8 L264.3 487.9 L265.8 487.9 L267.3 487.9 L268.8 488.0 L270.3 488.0 L271.8 487.9 L273.3 487.9 L274.8 487.9 L276.3 487.8 L277.8 487.7 L279.3 487.6 L280.8 487.5 L282.3 487.4 L283.8 487.3 L285.3 487.1 L286.8 486.9 L288.3 486.7 L289.8 486.6 L291.3 486.4 L292.8 486.3 L294.3 486.2 L295.8 486.0 L297.3 485.9 L298.8 485.8 L300.3 485.8 L301.8 485.7 L303.3 485.8 L304.8 485.8 L306.3 485.9 L307.8 486.0 L309.3 486.1 L310.8 486.2 L312.3 486.3 L313.8 486.4 L315.3 486.6 L316.8 486.8 L318.3 487.1 L319.8 487.3 L321.3 487.6 L322.8 487.8 L324.3 488.1 L325.8 488.3 L327.3 488.6 L328.8 488.8 L330.3 489.1 L331.8 489.3 L333.3 489.5 L334.8 489.7 L336.3 489.8 L337.8 490.0 L339.3 490.1 L340.8 490.2 L342.3 490.3 L343.8 490.3 L345.3 490.4 L346.8 490.5 L348.3 490.5 L349.8 490.5 L351.3 490.6 L352.8 490.5 L354.3 490.5 L355.8 490.4 L357.3 490.3 L358.8 490.3 L360.3 490.2 L361.8 490.1 L363.3 490.1 L364.8 490.0 L366.3 489.9 L367.8 489.8 L369.3 489.8 L370.8 489.7 L372.3 489.7 L373.8 489.8 L375.3 489.8 L376.8 489.9 L378.3 489.9 L379.8 490.0 L381.3 490.0 L382.8 490.1 L384.3 490.1 L385.8 490.2 L387.3 490.2 L388.8 490.3 L390.3 490.3 L391.8 490.3 L393.3 490.4 L394.8 490.4 L396.3 490.4 L397.8 490.3 L399.3 490.3"/>
<path stroke-width="5.33" d="M396.3 490.4 L397.8 490.3 L399.3 490.3 L400.8 490.2 L402.3 490.2 L403.8 490.1 L405.3 490.1 L406.8 490.0 L408.3 490.0 L409.8 489.9 L411.3 489.9 L412.8 489.9 L414.3 489.9 L415.8 489.9 L417.3 489.9 L418.8 489.9 L420.3 489.9 L421.8 490.0 L423.3 490.0 L424.8 490.1"/>
<path stroke-width="5.19" d="M421.8 490.0 L423.3 490.0 L424.8 490.1 L426.3 490.1 L427.8 490.2 L429.3 490.2 L430.8 490.3 L432.3 490.3 L433.8 490.3 L435.3 490.3 L436.8 490.3 L438.3 490.3 L439.8 490.3 L441.3 490.3 L442.8 490.3 L444.3 490.3 L445.8 490.3 L447.3 490.3 L448.8 490.3"/>
<path stroke-width="5.05" d="M447.3 490.3 L448.8 490.3 L450.3 490.3 L451.8 490.3 L453.3 490.3 L454.8 490.2 L456.3 490.2 L457.8 490.2 L459.3 490.2 L460.8 490.2 L462.3 490.2 L463.8 490.2 L465.3 490.2 L466.8 490.2 L468.3 490.2 L469.8 490.2 L471.3 490.2 L472.8 490.2 L474.3 490.2"/>
<path stroke-width="4.91" d="M471.3 490.2 L472.8 490.2 L474.3 490.2 L475.8 490.2 L477.3 490.2 L478.8 490.2 L480.3 490.2 L481.8 490.2 L483.3 490.2 L484.8 490.2 L486.3 490.2 L487.8 490.2 L489.3 490.2 L490.8 490.2 L492.3 490.2 L493.8 490.1 L495.3 490.1 L496.8 490.1 L498.3 490.1 L499.8 490.0"/>
<path stroke-width="4.77" d="M496.8 490.1 L498.3 490.1 L499.8 490.0 L501.3 490.0 L502.8 489.9 L504.3 489.9 L505.8 489.9 L507.3 489.8 L508.8 489.8 L510.3 489.8 L511.8 489.7 L513.3 489.7 L514.8 489.6 L516.3 489.6 L517.8 489.5 L519.3 489.4 L520.8 489.4 L522.3 489.3 L523.8 489.3"/>
<path stroke-width="4.63" d="M522.3 489.3 L523.8 489.3 L525.3 489.2 L526.8 489.2 L528.3 489.2 L529.8 489.2 L531.3 489.2 L532.8 489.2 L534.3 489.2 L535.8 489.2 L537.3 489.3 L538.8 489.4 L540.3 489.4 L541.8 489.5 L543.3 489.6 L544.8 489.6 L546.3 489.7 L547.8 489.8 L549.3 489.8"/>
<path stroke-width="4.49" d="M546.3 489.7 L547.8 489.8 L549.3 489.8 L550.8 489.8 L552.3 489.9 L553.8 489.9 L555.3 490.0 L556.8 490.0 L558.3 490.0 L559.8 490.1 L561.3 490.1 L562.8 490.1 L564.3 490.2 L565.8 490.2 L567.3 490.2 L568.8 490.3 L570.3 490.3 L571.8 490.3 L573.3 490.3 L574.8 490.4"/>
<path stroke-width="4.35" d="M571.8 490.3 L573.3 490.3 L574.8 490.4 L576.3 490.4 L577.8 490.4 L579.3 490.4 L580.8 490.4 L582.3 490.4 L583.8 490.4 L585.3 490.4 L586.8 490.4 L588.3 490.4 L589.8 490.4 L591.3 490.4 L592.8 490.3 L594.3 490.3 L595.8 490.3 L597.3 490.3 L598.8 490.3"/>
<path stroke-width="4.21" d="M597.3 490.3 L598.8 490.3 L600.3 490.3 L601.8 490.3 L603.3 490.3 L604.8 490.2 L606.3 490.2 L607.8 490.2 L609.3 490.2 L610.8 490.2 L612.3 490.2 L613.8 490.2 L615.3 490.1 L616.8 490.1 L618.3 490.1 L619.8 490.1 L621.3 490.1 L622.8 490.1 L624.3 490.0"/>
<path stroke-width="4.07" d="M621.3 490.1 L622.8 490.1 L624.3 490.0 L625.8 490.0 L627.3 490.0 L628.8 490.0 L630.3 490.0 L631.8 489.9 L633.3 489.9 L634.8 489.9 L636.3 489.9 L637.8 489.8 L639.3 489.8 L640.8 489.8 L642.3 489.8 L643.8 489.8 L645.3 489.8 L646.8 489.7 L648.3 489.7 L649.8 489.7"/>
<path stroke-width="4.00" d="M646.8 489.7 L648.3 489.7 L649.8 489.7 L651.3 489.7 L652.8 489.7 L654.3 489.7 L655.8 489.7 L657.3 489.7 L658.8 489.7 L660.3 489.7 L661.8 489.7 L663.3 489.7 L664.8 489.8 L666.3 489.8 L667.8 489.8 L669.3 489.8 L670.8 489.8 L672.3 489.8 L673.8 489.9 L675.3 489.9 L676.8 489.9 L678.3 489.9 L679.8 489.9 L681.3 490.0 L682.8 490.0 L684.3 490.0 L685.8 490.0 L687.3 490.0 L688.8 490.1 L690.3 490.1 L691.8 490.1 L693.3 490.1 L694.8 490.1 L696.3 490.1 L697.8 490.2 L699.3 490.2 L700.8 490.2 L702.3 490.2 L703.8 490.2 L705.3 490.2 L706.8 490.3 L708.3 490.3 L709.8 490.3 L711.3 490.3 L712.8 490.3 L714.3 490.3 L715.8 490.3 L717.3 490.3 L718.8 490.3 L720.3 490.3 L721.8 490.3 L723.3 490.3 L724.8 490.3 L726.3 490.3 L727.8 490.3 L729.3 490.3 L730.8 490.3 L732.3 490.3 L733.8 490.3 L735.3 490.3 L736.8 490.3 L738.3 490.3 L739.8 490.3 L741.3 490.3 L742.8 490.3 L744.3 490.3 L745.8 490.3 L747.3 490.3 L748.8 490.3 L750.3 490.3 L751.8 490.3 L753.3 490.3 L754.8 490.3 L756.3 490.3 L757.8 490.3 L759.3 490.3 L760.8 490.3 L762.3 490.3 L763.8 490.3 L765.3 490.3 L766.8 490.3 L768.3 490.3 L769.8 490.3 L771.3 490.3 L772.8 490.3 L774.3 490.3 L775.8 490.3 L777.3 490.3 L778.8 490.3 L780.3 490.3 L781.8 490.3 L783.3 490.3 L784.8 490.3"/>
<path stroke-width="4.80" d="M781.8 490.3 L783.3 490.3 L784.8 490.3 L789.5 481.5 L800.8 481.5 L804.6 506.5 L815.9 506.5 L819.6 491.5 L830.9 491.5 L834.7 491.5 L846.0 491.5 L849.7 449.8 L861.0 449.8 L864.8 628.0 L876.1 628.0 L879.9 367.2 L891.2 367.2 L894.9 559.9 L906.2 559.9 L910.0 489.5 L921.0 489.5"/>
</g>
<g stroke="#bfbf00">
<path stroke-width="5.40" d="M114.3 426.5 L115.8 426.5 L117.3 426.5 L118.8 426.5 L120.3 426.5 L121.8 426.5 L123.3 426.5 L124.8 426.5 L126.3 426.5 L127.8 426.5 L129.3 426.5 L130.8 426.5 L132.3 426.5 L133.8 426.5 L135.3 426.5 L136.8 426.5 L138.3 426.5 L139.8 426.5 L141.3 426.5 L142.8 426.5 L144.3 426.5 L145.8 426.5 L147.3 426.5 L148.8 426.5 L150.3 426.5 L151.8 426.5 L153.3 426.5 L154.8 426.5 L156.3 426.5 L157.8 426.5 L159.3 426.5 L160.8 426.5 L162.3 426.5 L163.8 426.5 L165.3 426.5 L166.8 426.5 L168.3 426.5 L169.8 426.5 L171.3 426.6 L172.8 426.9 L174.3 427.4 L175.8 428.1 L177.3 428.9 L178.8 429.9 L180.3 431.3 L181.8 433.0 L183.3 434.7 L184.8 436.5 L186.3 438.5 L187.8 440.6 L189.3 442.9 L190.8 445.3 L192.3 447.7 L193.8 450.2 L195.3 452.7 L196.8 455.3 L198.3 458.1 L199.8 461.0 L201.3 463.9 L202.8 466.8 L204.3 469.5 L205.8 472.1 L207.3 474.6 L208.8 477.1 L210.3 479.6 L211.8 482.0 L213.3 483.9 L214.8 485.5 L216.3 486.5 L217.8 487.4 L219.3 488.3 L220.8 488.9 L222.3 489.4 L223.8 489.5 L225.3 489.3 L226.8 488.9 L228.3 488.2 L229.8 487.3 L231.3 486.3 L232.8 485.2 L234.3 483.9 L235.8 481.9 L237.3 479.4 L238.8 476.6 L240.3 473.7 L241.8 471.0 L243.3 468.6 L244.8 466.2 L246.3 463.8 L247.8 461.5 L249.3 459.3 L250.8 457.3 L252.3 455.5 L253.8 454.0 L255.3 452.4 L256.8 451.0 L258.3 449.7 L259.8 448.6 L261.3 447.8 L262.8 447.4 L264.3 447.0 L265.8 446.6 L267.3 446.4 L268.8 446.2 L270.3 446.2 L271.8 446.3 L273.3 446.6 L274.8 447.1 L276.3 447.6 L277.8 448.3 L279.3 449.0 L280.8 449.7 L282.3 450.8 L283.8 452.1 L285.3 453.5 L286.8 455.0 L288.3 456.5 L289.8 457.8 L291.3 458.9 L292.8 460.0 L294.3 461.1 L295.8 462.2 L297.3 463.2 L298.8 464.0 L300.3 464.6 L301.8 464.7 L303.3 464.6 L304.8 464.2 L306.3 463.7 L307.8 463.0 L309.3 462.2 L310.8 461.3 L312.3 460.3 L313.8 459.2 L315.3 457.7 L316.8 455.9 L318.3 453.8 L319.8 451.6 L321.3 449.3 L322.8 447.2 L324.3 445.2 L325.8 443.2 L327.3 441.1 L328.8 439.0 L330.3 436.9 L331.8 435.0 L333.3 433.3 L334.8 431.9 L336.3 430.6 L337.8 429.4 L339.3 428.4 L340.8 427.4 L342.3 426.7 L343.8 426.1 L345.3 425.6 L346.8 425.1 L348.3 424.7 L349.8 424.4 L351.3 424.4 L352.8 424.5 L354.3 424.9 L355.8 425.5 L357.3 426.1 L358.8 426.7 L360.3 427.3 L361.8 427.8 L363.3 428.5 L364.8 429.2 L366.3 429.8 L367.8 430.5 L369.3 430.9 L370.8 431.2 L372.3 431.2 L373.8 431.0 L375.3 430.7 L376.8 430.2 L378.3 429.7 L379.8 429.1 L381.3 428.6 L382.8 428.2 L384.3 427.8 L385.8 427.5 L387.3 427.1 L388.8 426.7 L390.3 426.4 L391.8 426.2 L393.3 426.0 L394.8 425.9 L396.3 426.0 L397.8 426.2 L399.3 426.5"/>
<path stroke-width="5.33" d="M396.3 426.0 L397.8 426.2 L399.3 426.5 L400.8 426.9 L402.3 427.4 L403.8 427.9 L405.3 428.4 L406.8 428.9 L408.3 429.3 L409.8 429.7 L411.3 430.0 L412.8 430.2 L414.3 430.3 L415.8 430.2 L417.3 430.0 L418.8 429.8 L420.3 429.5 L421.8 429.1 L423.3 428.7 L424.8 428.3"/>
<path stroke-width="5.19" d="M421.8 429.1 L423.3 428.7 L424.8 428.3 L426.3 427.9 L427.8 427.5 L429.3 427.1 L430.8 426.8 L432.3 426.5 L433.8 426.3 L435.3 426.2 L436.8 426.2 L438.3 426.2 L439.8 426.2 L441.3 426.3 L442.8 426.3 L444.3 426.4 L445.8 426.5 L447.3 426.6 L448.8 426.7"/>
<path stroke-width="5.05" d="M447.3 426.6 L448.8 426.7 L450.3 426.7 L451.8 426.8 L453.3 426.9 L454.8 427.0 L456.3 427.1 L457.8 427.1 L459.3 427.2 L460.8 427.2 L462.3 427.2 L463.8 427.3 L465.3 427.3 L466.8 427.3 L468.3 427.3 L469.8 427.3 L471.3 427.3 L472.8 427.3 L474.3 427.3"/>
<path stroke-width="4.91" d="M471.3 427.3 L472.8 427.3 L474.3 427.3 L475.8 427.3 L477.3 427.3 L478.8 427.3 L480.3 427.3 L481.8 427.3 L483.3 427.3 L484.8 427.4 L486.3 427.4 L487.8 427.4 L489.3 427.4 L490.8 427.5 L492.3 427.6 L493.8 427.8 L495.3 428.0 L496.8 428.3 L498.3 428.6 L499.8 428.9"/>
<path stroke-width="4.77" d="M496.8 428.3 L498.3 428.6 L499.8 428.9 L501.3 429.2 L502.8 429.5 L504.3 429.8 L505.8 430.2 L507.3 430.5 L508.8 430.8 L510.3 431.1 L511.8 431.4 L513.3 431.8 L514.8 432.3 L516.3 432.7 L517.8 433.2 L519.3 433.7 L520.8 434.2 L522.3 434.7 L523.8 435.1"/>
<path stroke-width="4.63" d="M522.3 434.7 L523.8 435.1 L525.3 435.4 L526.8 435.7 L528.3 436.0 L529.8 436.1 L531.3 436.1 L532.8 436.0 L534.3 435.8 L535.8 435.4 L537.3 434.9 L538.8 434.4 L540.3 433.8 L541.8 433.2 L543.3 432.6 L544.8 432.0 L546.3 431.5 L547.8 431.1 L549.3 430.7"/>
<path stroke-width="4.49" d="M546.3 431.5 L547.8 431.1 L549.3 430.7 L550.8 430.3 L552.3 430.0 L553.8 429.6 L555.3 429.3 L556.8 429.0 L558.3 428.7 L559.8 428.4 L561.3 428.2 L562.8 427.9 L564.3 427.6 L565.8 427.3 L567.3 427.1 L568.8 426.8 L570.3 426.6 L571.8 426.3 L573.3 426.1 L574.8 426.0"/>
<path stroke-width="4.35" d="M571.8 426.3 L573.3 426.1 L574.8 426.0 L576.3 425.8 L577.8 425.7 L579.3 425.7 L580.8 425.7 L582.3 425.7 L583.8 425.7 L585.3 425.8 L586.8 425.8 L588.3 425.9 L589.8 425.9 L591.3 426.0 L592.8 426.1 L594.3 426.2 L595.8 426.3 L597.3 426.4 L598.8 426.5"/>
<path stroke-width="4.21" d="M597.3 426.4 L598.8 426.5 L600.3 426.6 L601.8 426.7 L603.3 426.8 L604.8 427.0 L606.3 427.1 L607.8 427.2 L609.3 427.3 L610.8 427.4 L612.3 427.6 L613.8 427.7 L615.3 427.8 L616.8 427.9 L618.3 428.0 L619.8 428.2 L621.3 428.3 L622.8 428.5 L624.3 428.7"/>
<path stroke-width="4.07" d="M621.3 428.3 L622.8 428.5 L624.3 428.7 L625.8 428.9 L627.3 429.0 L628.8 429.2 L630.3 429.4 L631.8 429.6 L633.3 429.8 L634.8 430.0 L636.3 430.2 L637.8 430.4 L639.3 430.5 L640.8 430.7 L642.3 430.8 L643.8 431.0 L645.3 431.1 L646.8 431.2 L648.3 431.3 L649.8 431.4"/>
<path stroke-width="4.00" d="M646.8 431.2 L648.3 431.3 L649.8 431.4 L651.3 431.5 L652.8 431.5 L654.3 431.5 L655.8 431.5 L657.3 431.5 L658.8 431.5 L660.3 431.4 L661.8 431.3 L663.3 431.2 L664.8 431.1 L666.3 431.0 L667.8 430.8 L669.3 430.7 L670.8 430.5 L672.3 430.3 L673.8 430.2 L675.3 430.0 L676.8 429.8 L678.3 429.6 L679.8 429.4 L681.3 429.3 L682.8 429.1 L684.3 428.9 L685.8 428.8 L687.3 428.6 L688.8 428.5 L690.3 428.4 L691.8 428.2 L693.3 428.1 L694.8 428.0 L696.3 427.8 L697.8 427.7 L699.3 427.5 L700.8 427.4 L702.3 427.2 L703.8 427.0 L705.3 426.9 L706.8 426.7 L708.3 426.6 L709.8 426.4 L711.3 426.3 L712.8 426.2 L714.3 426.1 L715.8 426.1 L717.3 426.1 L718.8 426.0 L720.3 426.0 L721.8 425.9 L723.3 425.9 L724.8 425.9 L726.3 425.8 L727.8 425.8 L729.3 425.8 L730.8 425.7 L732.3 425.7 L733.8 425.6 L735.3 425.6 L736.8 425.6 L738.3 425.5 L739.8 425.5 L741.3 425.4 L742.8 425.4 L744.3 425.4 L745.8 425.3 L747.3 425.3 L748.8 425.3 L750.3 425.2 L751.8 425.2 L753.3 425.1 L754.8 425.1 L756.3 425.1 L757.8 425.0 L759.3 425.0 L760.8 424.9 L762.3 424.9 L763.8 424.9 L765.3 424.8 L766.8 424.8 L768.3 424.8 L769.8 424.7 L771.3 424.7 L772.8 424.6 L774.3 424.6 L775.8 424.6 L777.3 424.5 L778.8 424.5 L780.3 424.4 L781.8 424.4 L783.3 424.4 L784.8 424.3"/>
<path stroke-width="4.80" d="M781.8 424.4 L783.3 424.4 L784.8 424.3 L789.5 412.6 L800.8 412.6 L804.6 544.4 L815.9 544.4 L819.6 405.3 L830.9 405.3 L834.7 326.0 L846.0 326.0 L849.7 414.4 L861.0 414.4 L864.8 420.7 L876.1 420.7 L879.9 445.0 L891.2 445.0 L894.9 460.7 L906.2 460.7 L910.0 426.0 L921.0 426.0"/>
</g>
<g stroke="#404040">
<path stroke-width="5.40" d="M114.3 362.5 L115.8 362.5 L117.3 362.5 L118.8 362.5 L120.3 362.5 L121.8 362.5 L123.3 362.5 L124.8 362.5 L126.3 362.5 L127.8 362.5 L129.3 362.5 L130.8 362.5 L132.3 362.5 L133.8 362.5 L135.3 362.5 L136.8 362.5 L138.3 362.5 L139.8 362.5 L141.3 362.5 L142.8 362.5 L144.3 362.5 L145.8 362.5 L147.3 362.5 L148.8 362.5 L150.3 362.5 L151.8 362.5 L153.3 362.5 L154.8 362.5 L156.3 362.5 L157.8 362.5 L159.3 362.5 L160.8 362.5 L162.3 362.5 L163.8 362.5 L165.3 362.5 L166.8 362.5 L168.3 362.5 L169.8 362.5 L171.3 362.6 L172.8 362.9 L174.3 363.3 L175.8 363.9 L177.3 364.6 L178.8 365.5 L180.3 366.8 L181.8 368.2 L183.3 369.8 L184.8 371.3 L186.3 373.1 L187.8 374.9 L189.3 376.9 L190.8 379.0 L192.3 381.2 L193.8 383.4 L195.3 385.6 L196.8 387.9 L198.3 390.4 L199.8 392.9 L201.3 395.5 L202.8 398.0 L204.3 400.4 L205.8 402.7 L207.3 404.8 L208.8 407.1 L210.3 409.3 L211.8 411.4 L213.3 413.1 L214.8 414.4 L216.3 415.4 L217.8 416.2 L219.3 416.9 L220.8 417.5 L222.3 417.9 L223.8 418.0 L225.3 417.8 L226.8 417.4 L228.3 416.8 L229.8 416.1 L231.3 415.2 L232.8 414.2 L234.3 413.1 L235.8 411.3 L237.3 409.1 L238.8 406.6 L240.3 404.1 L241.8 401.7 L243.3 399.6 L244.8 397.5 L246.3 395.4 L247.8 393.3 L249.3 391.4 L250.8 389.6 L252.3 388.1 L253.8 386.7 L255.3 385.3 L256.8 384.1 L258.3 382.9 L259.8 382.0 L261.3 381.3 L262.8 380.9 L264.3 380.5 L265.8 380.2 L267.3 380.0 L268.8 379.9 L270.3 379.8 L271.8 379.9 L273.3 380.2 L274.8 380.6 L276.3 381.1 L277.8 381.7 L279.3 382.3 L280.8 383.0 L282.3 383.9 L283.8 385.0 L285.3 386.3 L286.8 387.6 L288.3 388.9 L289.8 390.0 L291.3 391.0 L292.8 392.0 L294.3 393.0 L295.8 394.0 L297.3 394.9 L298.8 395.6 L300.3 396.0 L301.8 396.2 L303.3 396.1 L304.8 395.7 L306.3 395.3 L307.8 394.6 L309.3 393.9 L310.8 393.1 L312.3 392.3 L313.8 391.3 L315.3 390.0 L316.8 388.4 L318.3 386.5 L319.8 384.6 L321.3 382.6 L322.8 380.7 L324.3 379.0 L325.8 377.2 L327.3 375.3 L328.8 373.5 L330.3 371.7 L331.8 370.0 L333.3 368.5 L334.8 367.2 L336.3 366.1 L337.8 365.1 L339.3 364.1 L340.8 363.3 L342.3 362.7 L343.8 362.2 L345.3 361.7 L346.8 361.2 L348.3 360.9 L349.8 360.7 L351.3 360.6 L352.8 360.8 L354.3 361.1 L355.8 361.6 L357.3 362.1 L358.8 362.7 L360.3 363.2 L361.8 363.7 L363.3 364.2 L364.8 364.8 L366.3 365.4 L367.8 366.0 L369.3 366.4 L370.8 366.6 L372.3 366.6 L373.8 366.5 L375.3 366.2 L376.8 365.8 L378.3 365.3 L379.8 364.8 L381.3 364.4 L382.8 364.0 L384.3 363.6 L385.8 363.3 L387.3 363.0 L388.8 362.7 L390.3 362.4 L391.8 362.2 L393.3 362.1 L394.8 362.0 L396.3 362.1 L397.8 362.2 L399.3 362.5"/>
<path stroke-width="5.33" d="M396.3 362.1 L397.8 362.2 L399.3 362.5 L400.8 362.9 L402.3 363.3 L403.8 363.7 L405.3 364.2 L406.8 364.6 L408.3 365.0 L409.8 365.4 L411.3 365.6 L412.8 365.8 L414.3 365.8 L415.8 365.8 L417.3 365.6 L418.8 365.4 L420.3 365.1 L421.8 364.8 L423.3 364.4 L424.8 364.1"/>
<path stroke-width="5.19" d="M421.8 364.8 L423.3 364.4 L424.8 364.1 L426.3 363.7 L427.8 363.4 L429.3 363.0 L430.8 362.7 L432.3 362.5 L433.8 362.3 L435.3 362.2 L436.8 362.2 L438.3 362.2 L439.8 362.3 L441.3 362.3 L442.8 362.4 L444.3 362.4 L445.8 362.5 L447.3 362.6 L448.8 362.6"/>
<path stroke-width="5.05" d="M447.3 362.6 L448.8 362.6 L450.3 362.7 L451.8 362.8 L453.3 362.9 L454.8 362.9 L456.3 363.0 L457.8 363.0 L459.3 363.1 L460.8 363.1 L462.3 363.2 L463.8 363.2 L465.3 363.2 L466.8 363.2 L468.3 363.2 L469.8 363.2 L471.3 363.2 L472.8 363.2 L474.3 363.2"/>
<path stroke-width="4.91" d="M471.3 363.2 L472.8 363.2 L474.3 363.2 L475.8 363.2 L477.3 363.2 L478.8 363.2 L480.3 363.2 L481.8 363.2 L483.3 363.2 L484.8 363.3 L486.3 363.3 L487.8 363.3 L489.3 363.3 L490.8 363.4 L492.3 363.5 L493.8 363.7 L495.3 363.9 L496.8 364.1 L498.3 364.3 L499.8 364.6"/>
<path stroke-width="4.77" d="M496.8 364.1 L498.3 364.3 L499.8 364.6 L501.3 364.8 L502.8 365.1 L504.3 365.4 L505.8 365.7 L507.3 366.0 L508.8 366.3 L510.3 366.5 L511.8 366.9 L513.3 367.2 L514.8 367.6 L516.3 368.0 L517.8 368.4 L519.3 368.9 L520.8 369.3 L522.3 369.7 L523.8 370.1"/>
<path stroke-width="4.63" d="M522.3 369.7 L523.8 370.1 L525.3 370.4 L526.8 370.6 L528.3 370.8 L529.8 371.0 L531.3 371.0 L532.8 370.9 L534.3 370.7 L535.8 370.3 L537.3 369.9 L538.8 369.5 L540.3 368.9 L541.8 368.4 L543.3 367.9 L544.8 367.4 L546.3 366.9 L547.8 366.5 L549.3 366.2"/>
<path stroke-width="4.49" d="M546.3 366.9 L547.8 366.5 L549.3 366.2 L550.8 365.9 L552.3 365.6 L553.8 365.3 L555.3 365.0 L556.8 364.7 L558.3 364.4 L559.8 364.2 L561.3 364.0 L562.8 363.7 L564.3 363.5 L565.8 363.2 L567.3 363.0 L568.8 362.8 L570.3 362.6 L571.8 362.4 L573.3 362.2 L574.8 362.0"/>
<path stroke-width="4.35" d="M571.8 362.4 L573.3 362.2 L574.8 362.0 L576.3 361.9 L577.8 361.8 L579.3 361.8 L580.8 361.8 L582.3 361.8 L583.8 361.8 L585.3 361.8 L586.8 361.9 L588.3 361.9 L589.8 362.0 L591.3 362.1 L592.8 362.1 L594.3 362.2 L595.8 362.3 L597.3 362.4 L598.8 362.5"/>
<path stroke-width="4.21" d="M597.3 362.4 L598.8 362.5 L600.3 362.6 L601.8 362.7 L603.3 362.8 L604.8 362.9 L606.3 363.0 L607.8 363.1 L609.3 363.2 L610.8 363.3 L612.3 363.4 L613.8 363.5 L615.3 363.6 L616.8 363.7 L618.3 363.9 L619.8 364.0 L621.3 364.1 L622.8 364.3 L624.3 364.4"/>
<path stroke-width="4.07" d="M621.3 364.1 L622.8 364.3 L624.3 364.4 L625.8 364.6 L627.3 364.7 L628.8 364.9 L630.3 365.1 L631.8 365.2 L633.3 365.4 L634.8 365.6 L636.3 365.7 L637.8 365.9 L639.3 366.0 L640.8 366.2 L642.3 366.3 L643.8 366.4 L645.3 366.6 L646.8 366.7 L648.3 366.8 L649.8 366.8"/>
<path stroke-width="4.00" d="M646.8 366.7 L648.3 366.8 L649.8 366.8 L651.3 366.9 L652.8 366.9 L654.3 366.9 L655.8 366.9 L657.3 366.9 L658.8 366.9 L660.3 366.8 L661.8 366.7 L663.3 366.7 L664.8 366.5 L666.3 366.4 L667.8 366.3 L669.3 366.2 L670.8 366.0 L672.3 365.9 L673.8 365.7 L675.3 365.6 L676.8 365.4 L678.3 365.3 L679.8 365.1 L681.3 364.9 L682.8 364.8 L684.3 364.6 L685.8 364.5 L687.3 364.4 L688.8 364.3 L690.3 364.1 L691.8 364.0 L693.3 363.9 L694.8 363.8 L696.3 363.7 L697.8 363.5 L699.3 363.4 L700.8 363.3 L702.3 363.2 L703.8 363.0 L705.3 362.9 L706.8 362.8 L708.3 362.7 L709.8 362.7 L711.3 362.6 L712.8 362.5 L714.3 362.5 L715.8 362.5 L717.3 362.5 L718.8 362.5 L720.3 362.5 L721.8 362.5 L723.3 362.5 L724.8 362.5 L726.3 362.5 L727.8 362.5 L729.3 362.5 L730.8 362.5 L732.3 362.5 L733.8 362.5 L735.3 362.5 L736.8 362.5 L738.3 362.5 L739.8 362.5 L741.3 362.5 L742.8 362.5 L744.3 362.5 L745.8 362.5 L747.3 362.5 L748.8 362.5 L750.3 362.5 L751.8 362.5 L753.3 362.5 L754.8 362.5 L756.3 362.5 L757.8 362.5 L759.3 362.5 L760.8 362.5 L762.3 362.5 L763.8 362.5 L765.3 362.5 L766.8 362.5 L768.3 362.5 L769.8 362.5 L771.3 362.5 L772.8 362.5 L774.3 362.5 L775.8 362.5 L777.3 362.5 L778.8 362.5 L780.3 362.5 L781.8 362.5 L783.3 362.5 L784.8 362.5"/>
<path stroke-width="4.80" d="M781.8 362.5 L783.3 362.5 L784.8 362.5 L789.5 349.5 L800.8 349.5 L804.6 202.7 L815.9 202.7 L819.6 332.5 L830.9 332.5 L834.7 314.3 L846.0 314.3 L849.7 377.5 L861.0 377.5 L864.8 384.0 L876.1 384.0 L879.9 358.0 L891.2 358.0 L894.9 384.0 L906.2 384.0 L910.0 362.5 L921.0 362.5"/>
</g>
<g stroke="#0000ff">
<path stroke-width="5.40" d="M114.3 298.8 L115.5 298.8 L116.7 298.8 L117.9 298.8 L119.1 298.8 L120.3 298.8 L121.5 298.8 L122.7 298.8 L123.9 298.8 L125.1 298.8 L126.3 298.8 L127.5 298.8 L128.7 298.8 L129.9 298.8 L131.1 298.8 L132.3 298.8 L133.5 298.8 L134.7 298.8 L135.9 298.8 L137.1 298.8 L138.3 298.8 L139.5 298.8 L140.7 298.8 L141.9 298.8 L143.1 298.8 L144.3 298.8 L145.5 298.8 L146.7 298.8 L147.9 298.8 L149.1 298.8 L150.3 298.8 L151.5 298.8 L152.7 298.8 L153.9 298.8 L155.1 298.8 L156.3 298.8 L157.5 298.8 L158.7 298.8 L159.9 298.8 L161.1 298.8 L162.3 298.8 L163.5 298.8 L164.7 298.8 L165.9 298.8 L167.1 298.8 L168.3 298.8 L169.5 298.8 L170.7 298.8 L171.9 298.8 L173.1 298.9 L174.3 298.9 L175.5 298.9 L176.7 299.0 L177.9 299.4 L179.1 299.9 L180.3 300.6 L181.5 301.2 L182.7 301.9 L183.9 302.6 L185.1 303.5 L186.3 304.4 L187.5 305.4 L188.7 306.4 L189.9 307.4 L191.1 308.5 L192.3 309.7 L193.5 310.9 L194.7 312.2 L195.9 313.5 L197.1 314.8 L198.3 316.0 L199.5 317.3 L200.7 318.5 L201.9 319.6 L203.1 320.7 L204.3 321.7 L205.5 322.8 L206.7 323.9 L207.9 324.9 L209.1 325.9 L210.3 326.9 L211.5 327.7 L212.7 328.5 L213.9 329.1 L215.1 329.6 L216.3 330.0 L217.5 330.3 L218.7 330.7 L219.9 330.9 L221.1 331.2 L222.3 331.4 L223.5 331.5 L224.7 331.6 L225.9 331.6 L227.1 331.5 L228.3 331.3 L229.5 331.0 L230.7 330.7 L231.9 330.3 L233.1 329.9 L234.3 329.5 L235.5 329.1 L236.7 328.6 L237.9 328.0 L239.1 327.2 L240.3 326.2 L241.5 325.2 L242.7 324.2 L243.9 323.1 L245.1 322.1 L246.3 321.2 L247.5 320.4 L248.7 319.5 L249.9 318.6 L251.1 317.8 L252.3 316.9 L253.5 316.1 L254.7 315.3 L255.9 314.7 L257.1 314.1 L258.3 313.7 L259.5 313.2 L260.7 312.8 L261.9 312.4 L263.1 312.0 L264.3 311.7 L265.5 311.5 L266.7 311.3 L267.9 311.1 L269.1 311.1 L270.3 311.1 L271.5 311.2 L272.7 311.3 L273.9 311.5 L275.1 311.6 L276.3 311.8 L277.5 312.1 L278.7 312.3 L279.9 312.5 L281.1 312.8 L282.3 313.3 L283.5 313.8 L284.7 314.3 L285.9 314.9 L287.1 315.5 L288.3 316.1 L289.5 316.6 L290.7 317.1 L291.9 317.5 L293.1 317.9 L294.3 318.3 L295.5 318.6 L296.7 319.0 L297.9 319.3 L299.1 319.6 L300.3 319.7 L301.5 319.8 L302.7 319.8 L303.9 319.6 L305.1 319.4 L306.3 319.2 L307.5 318.8 L308.7 318.5 L309.9 318.1 L311.1 317.7 L312.3 317.2 L313.5 316.8 L314.7 316.2 L315.9 315.6 L317.1 314.8 L318.3 314.0 L319.5 313.2 L320.7 312.3 L321.9 311.4 L323.1 310.6 L324.3 309.7 L325.5 308.9 L326.7 308.1 L327.9 307.3 L329.1 306.5 L330.3 305.7 L331.5 304.8 L332.7 304.0 L333.9 303.2 L335.1 302.5 L336.3 301.8 L337.5 301.1 L338.7 300.6 L339.9 300.2 L341.1 299.8 L342.3 299.5 L343.5 299.1 L344.7 298.8 L345.9 298.5 L347.1 298.3 L348.3 298.1 L349.5 298.0 L350.7 297.9 L351.9 297.9 L353.1 298.0 L354.3 298.2 L355.5 298.5 L356.7 298.8 L357.9 299.1 L359.1 299.4 L360.3 299.7 L361.5 300.0 L362.7 300.2 L363.9 300.5 L365.1 300.8 L366.3 301.2 L367.5 301.5 L368.7 301.8 L369.9 302.0 L371.1 302.2 L372.3 302.3 L373.5 302.3 L374.7 302.2 L375.9 301.9 L377.1 301.6 L378.3 301.2 L379.5 300.8 L380.7 300.4 L381.9 300.1 L383.1 299.8 L384.3 299.5 L385.5 299.3 L386.7 299.1 L387.9 298.9 L389.1 298.7 L390.3 298.5 L391.5 298.4 L392.7 298.3 L393.9 298.2 L395.1 298.2 L396.3 298.2 L397.5 298.3 L398.7 298.5 L399.9 298.6"/>
<path stroke-width="5.33" d="M396.3 298.2 L397.5 298.3 L398.7 298.5 L399.9 298.6 L401.1 298.8 L402.3 299.0 L403.5 299.3 L404.7 299.5 L405.9 299.7 L407.1 300.0 L408.3 300.2 L409.5 300.3 L410.7 300.5 L411.9 300.6 L413.1 300.7 L414.3 300.7 L415.5 300.7 L416.7 300.6 L417.9 300.5 L419.1 300.4 L420.3 300.2 L421.5 300.1 L422.7 299.9 L423.9 299.7"/>
<path stroke-width="5.19" d="M421.5 300.1 L422.7 299.9 L423.9 299.7 L425.1 299.5 L426.3 299.4 L427.5 299.2 L428.7 299.1 L429.9 298.9 L431.1 298.9 L432.3 298.8 L433.5 298.8 L434.7 298.8 L435.9 298.8 L437.1 298.8 L438.3 298.8 L439.5 298.8 L440.7 298.8 L441.9 298.8 L443.1 298.8 L444.3 298.8 L445.5 298.8 L446.7 298.8 L447.9 298.8 L449.1 298.8"/>
<path stroke-width="5.05" d="M446.7 298.8 L447.9 298.8 L449.1 298.8 L450.3 298.8 L451.5 298.8 L452.7 298.8 L453.9 298.8 L455.1 298.8 L456.3 298.8 L457.5 298.8 L458.7 298.8 L459.9 298.8 L461.1 298.8 L462.3 298.8 L463.5 298.8 L464.7 298.8 L465.9 298.8 L467.1 298.8 L468.3 298.8 L469.5 298.8 L470.7 298.8 L471.9 298.8 L473.1 298.8 L474.3 298.8"/>
<path stroke-width="4.91" d="M471.9 298.8 L473.1 298.8 L474.3 298.8 L475.5 298.8 L476.7 298.8 L477.9 298.8 L479.1 298.8 L480.3 298.8 L481.5 298.8 L482.7 298.8 L483.9 298.8 L485.1 298.8 L486.3 298.8 L487.5 298.8 L488.7 298.8 L489.9 298.8 L491.1 298.9 L492.3 299.0 L493.5 299.1 L494.7 299.2 L495.9 299.4 L497.1 299.5 L498.3 299.7 L499.5 299.9"/>
<path stroke-width="4.77" d="M497.1 299.5 L498.3 299.7 L499.5 299.9 L500.7 300.1 L501.9 300.3 L503.1 300.5 L504.3 300.7 L505.5 300.9 L506.7 301.1 L507.9 301.2 L509.1 301.4 L510.3 301.6 L511.5 301.7 L512.7 301.9 L513.9 302.1 L515.1 302.3 L516.3 302.5 L517.5 302.6 L518.7 302.8 L519.9 303.0 L521.1 303.2 L522.3 303.4 L523.5 303.6 L524.7 303.7"/>
<path stroke-width="4.63" d="M522.3 303.4 L523.5 303.6 L524.7 303.7 L525.9 303.9 L527.1 304.0 L528.3 304.1 L529.5 304.1 L530.7 304.2 L531.9 304.2 L533.1 304.2 L534.3 304.0 L535.5 303.8 L536.7 303.6 L537.9 303.3 L539.1 303.0 L540.3 302.6 L541.5 302.3 L542.7 301.9 L543.9 301.6 L545.1 301.3 L546.3 301.0 L547.5 300.8 L548.7 300.6 L549.9 300.5"/>
<path stroke-width="4.49" d="M546.3 301.0 L547.5 300.8 L548.7 300.6 L549.9 300.5 L551.1 300.3 L552.3 300.2 L553.5 300.0 L554.7 299.9 L555.9 299.7 L557.1 299.6 L558.3 299.5 L559.5 299.4 L560.7 299.3 L561.9 299.2 L563.1 299.1 L564.3 299.0 L565.5 298.9 L566.7 298.9 L567.9 298.8 L569.1 298.8 L570.3 298.7 L571.5 298.7 L572.7 298.7 L573.9 298.6"/>
<path stroke-width="4.35" d="M571.5 298.7 L572.7 298.7 L573.9 298.6 L575.1 298.6 L576.3 298.5 L577.5 298.5 L578.7 298.5 L579.9 298.4 L581.1 298.4 L582.3 298.4 L583.5 298.4 L584.7 298.3 L585.9 298.3 L587.1 298.3 L588.3 298.3 L589.5 298.3 L590.7 298.3 L591.9 298.3 L593.1 298.3 L594.3 298.3 L595.5 298.4 L596.7 298.4 L597.9 298.4 L599.1 298.5"/>
<path stroke-width="4.21" d="M596.7 298.4 L597.9 298.4 L599.1 298.5 L600.3 298.5 L601.5 298.6 L602.7 298.6 L603.9 298.7 L605.1 298.7 L606.3 298.8 L607.5 298.8 L608.7 298.9 L609.9 299.0 L611.1 299.0 L612.3 299.1 L613.5 299.2 L614.7 299.2 L615.9 299.3 L617.1 299.4 L618.3 299.4 L619.5 299.5 L620.7 299.5 L621.9 299.6 L623.1 299.7 L624.3 299.8"/>
<path stroke-width="4.07" d="M621.9 299.6 L623.1 299.7 L624.3 299.8 L625.5 299.8 L626.7 299.9 L627.9 300.0 L629.1 300.1 L630.3 300.2 L631.5 300.3 L632.7 300.4 L633.9 300.6 L635.1 300.7 L636.3 300.8 L637.5 300.9 L638.7 301.0 L639.9 301.1 L641.1 301.2 L642.3 301.3 L643.5 301.4 L644.7 301.5 L645.9 301.6 L647.1 301.7 L648.3 301.8 L649.5 301.9"/>
<path stroke-width="4.00" d="M647.1 301.7 L648.3 301.8 L649.5 301.9 L650.7 301.9 L651.9 302.0 L653.1 302.0 L654.3 302.1 L655.5 302.1 L656.7 302.2 L657.9 302.2 L659.1 302.2 L660.3 302.2 L661.5 302.2 L662.7 302.2 L663.9 302.2 L665.1 302.1 L666.3 302.1 L667.5 302.1 L668.7 302.0 L669.9 302.0 L671.1 301.9 L672.3 301.9 L673.5 301.8 L674.7 301.8 L675.9 301.7 L677.1 301.7 L678.3 301.6 L679.5 301.5 L680.7 301.5 L681.9 301.4 L683.1 301.3 L684.3 301.3 L685.5 301.2 L686.7 301.1 L687.9 301.1 L689.1 301.0 L690.3 301.0 L691.5 300.9 L692.7 300.8 L693.9 300.8 L695.1 300.7 L696.3 300.7 L697.5 300.7 L698.7 300.6 L699.9 300.6 L701.1 300.6 L702.3 300.5 L703.5 300.5 L704.7 300.5 L705.9 300.4 L707.1 300.4 L708.3 300.4 L709.5 300.3 L710.7 300.3 L711.9 300.3 L713.1 300.2 L714.3 300.2 L715.5 300.2 L716.7 300.1 L717.9 300.1 L719.1 300.1 L720.3 300.1 L721.5 300.0 L722.7 300.0 L723.9 300.0 L725.1 299.9 L726.3 299.9 L727.5 299.9 L728.7 299.9 L729.9 299.8 L731.1 299.8 L732.3 299.8 L733.5 299.8 L734.7 299.8 L735.9 299.7 L737.1 299.7 L738.3 299.7 L739.5 299.7 L740.7 299.7 L741.9 299.7 L743.1 299.6 L744.3 299.6 L745.5 299.6 L746.7 299.6 L747.9 299.6 L749.1 299.6 L750.3 299.6 L751.5 299.6 L752.7 299.6 L753.9 299.6 L755.1 299.6 L756.3 299.6 L757.5 299.6 L758.7 299.6 L759.9 299.6 L761.1 299.6 L762.3 299.6 L763.5 299.6 L764.7 299.6 L765.9 299.6 L767.1 299.6 L768.3 299.6 L769.5 299.6 L770.7 299.6 L771.9 299.6 L773.1 299.6 L774.3 299.6 L775.5 299.6 L776.7 299.6 L777.9 299.6 L779.1 299.6 L780.3 299.6 L781.5 299.6 L782.7 299.6 L783.9 299.6 L785.1 299.6"/>
<path stroke-width="4.80" d="M782.7 299.6 L783.9 299.6 L785.1 299.6 L789.5 233.0 L800.8 233.0 L804.6 324.3 L815.9 324.3 L819.6 185.4 L830.9 185.4 L834.7 437.0 L846.0 437.0 L849.7 289.8 L861.0 289.8 L864.8 295.2 L876.1 295.2 L879.9 292.9 L891.2 292.9 L894.9 290.2 L906.2 290.2 L910.0 299.0 L921.0 299.0"/>
</g>
<g stroke="#008000">
<path stroke-width="5.40" d="M114.3 235.5 L115.5 235.5 L116.7 235.5 L117.9 235.5 L119.1 235.5 L120.3 235.5 L121.5 235.5 L122.7 235.5 L123.9 235.5 L125.1 235.5 L126.3 235.5 L127.5 235.5 L128.7 235.5 L129.9 235.5 L131.1 235.5 L132.3 235.5 L133.5 235.5 L134.7 235.5 L135.9 235.5 L137.1 235.5 L138.3 235.5 L139.5 235.5 L140.7 235.5 L141.9 235.5 L143.1 235.5 L144.3 235.5 L145.5 235.5 L146.7 235.5 L147.9 235.5 L149.1 235.5 L150.3 235.5 L151.5 235.5 L152.7 235.5 L153.9 235.5 L155.1 235.4 L156.3 235.4 L157.5 235.4 L158.7 235.4 L159.9 235.3 L161.1 235.3 L162.3 235.2 L163.5 235.2 L164.7 235.1 L165.9 235.1 L167.1 235.0 L168.3 234.9 L169.5 234.9 L170.7 234.8 L171.9 234.7 L173.1 234.6 L174.3 234.4 L175.5 234.3 L176.7 234.1 L177.9 233.9 L179.1 233.7 L180.3 233.4 L181.5 233.2 L182.7 232.9 L183.9 232.7 L185.1 232.4 L186.3 232.1 L187.5 231.7 L188.7 231.3 L189.9 230.8 L191.1 230.3 L192.3 229.8 L193.5 229.3 L194.7 228.7 L195.9 228.2 L197.1 227.6 L198.3 227.0 L199.5 226.2 L200.7 225.5 L201.9 224.6 L203.1 223.8 L204.3 223.0 L205.5 222.2 L206.7 221.5 L207.9 220.8 L209.1 220.3 L210.3 219.9 L211.5 219.5 L212.7 219.1 L213.9 218.7 L215.1 218.4 L216.3 218.1 L217.5 218.0 L218.7 217.9 L219.9 218.0 L221.1 218.2 L222.3 218.6 L223.5 219.1 L224.7 219.6 L225.9 220.2 L227.1 220.8 L228.3 221.6 L229.5 222.5 L230.7 223.6 L231.9 224.6 L233.1 225.7 L234.3 226.6 L235.5 227.4 L236.7 228.1 L237.9 228.8 L239.1 229.4 L240.3 230.0 L241.5 230.6 L242.7 231.0 L243.9 231.5 L245.1 231.8 L246.3 232.1 L247.5 232.3 L248.7 232.6 L249.9 232.8 L251.1 233.0 L252.3 233.2 L253.5 233.3 L254.7 233.5 L255.9 233.6 L257.1 233.6 L258.3 233.6 L259.5 233.6 L260.7 233.5 L261.9 233.4 L263.1 233.3 L264.3 233.2 L265.5 233.1 L266.7 232.9 L267.9 232.7 L269.1 232.6 L270.3 232.4 L271.5 232.2 L272.7 232.0 L273.9 231.8 L275.1 231.6 L276.3 231.4 L277.5 231.2 L278.7 230.9 L279.9 230.6 L281.1 230.3 L282.3 230.0 L283.5 229.6 L284.7 229.3 L285.9 229.0 L287.1 228.7 L288.3 228.5 L289.5 228.2 L290.7 228.0 L291.9 227.7 L293.1 227.4 L294.3 227.2 L295.5 226.9 L296.7 226.7 L297.9 226.5 L299.1 226.4 L300.3 226.3 L301.5 226.3 L302.7 226.4 L303.9 226.5 L305.1 226.7 L306.3 227.0 L307.5 227.2 L308.7 227.6 L309.9 227.9 L311.1 228.2 L312.3 228.5 L313.5 228.8 L314.7 229.2 L315.9 229.5 L317.1 229.9 L318.3 230.3 L319.5 230.7 L320.7 231.0 L321.9 231.4 L323.1 231.8 L324.3 232.1 L325.5 232.4 L326.7 232.7 L327.9 233.0 L329.1 233.3 L330.3 233.6 L331.5 233.9 L332.7 234.1 L333.9 234.3 L335.1 234.5 L336.3 234.7 L337.5 234.8 L338.7 234.9 L339.9 235.0 L341.1 235.1 L342.3 235.1 L343.5 235.2 L344.7 235.3 L345.9 235.3 L347.1 235.4 L348.3 235.4 L349.5 235.5 L350.7 235.5 L351.9 235.5 L353.1 235.5 L354.3 235.5 L355.5 235.5 L356.7 235.6 L357.9 235.6 L359.1 235.6 L360.3 235.6 L361.5 235.6 L362.7 235.6 L363.9 235.6 L365.1 235.6 L366.3 235.7 L367.5 235.7 L368.7 235.7 L369.9 235.7 L371.1 235.7 L372.3 235.7 L373.5 235.7 L374.7 235.7 L375.9 235.7 L377.1 235.7 L378.3 235.7 L379.5 235.7 L380.7 235.8 L381.9 235.8 L383.1 235.8 L384.3 235.8 L385.5 235.8 L386.7 235.8 L387.9 235.8 L389.1 235.8 L390.3 235.8 L391.5 235.8 L392.7 235.8 L393.9 235.8 L395.1 235.8 L396.3 235.8 L397.5 235.8 L398.7 235.8 L399.9 235.8"/>
<path stroke-width="5.33" d="M396.3 235.8 L397.5 235.8 L398.7 235.8 L399.9 235.8 L401.1 235.8 L402.3 235.8 L403.5 235.8 L404.7 235.8 L405.9 235.8 L407.1 235.8 L408.3 235.8 L409.5 235.8 L410.7 235.7 L411.9 235.7 L413.1 235.7 L414.3 235.7 L415.5 235.7 L416.7 235.7 L417.9 235.6 L419.1 235.6 L420.3 235.6 L421.5 235.6 L422.7 235.6 L423.9 235.5"/>
<path stroke-width="5.19" d="M421.5 235.6 L422.7 235.6 L423.9 235.5 L425.1 235.5 L426.3 235.5 L427.5 235.5 L428.7 235.5 L429.9 235.4 L431.1 235.4 L432.3 235.4 L433.5 235.4 L434.7 235.4 L435.9 235.4 L437.1 235.3 L438.3 235.3 L439.5 235.3 L440.7 235.3 L441.9 235.3 L443.1 235.3 L444.3 235.2 L445.5 235.2 L446.7 235.2 L447.9 235.2 L449.1 235.2"/>
<path stroke-width="5.05" d="M446.7 235.2 L447.9 235.2 L449.1 235.2 L450.3 235.2 L451.5 235.2 L452.7 235.2 L453.9 235.2 L455.1 235.2 L456.3 235.2 L457.5 235.2 L458.7 235.2 L459.9 235.2 L461.1 235.1 L462.3 235.1 L463.5 235.1 L464.7 235.1 L465.9 235.1 L467.1 235.1 L468.3 235.1 L469.5 235.1 L470.7 235.1 L471.9 235.1 L473.1 235.1 L474.3 235.1"/>
<path stroke-width="4.91" d="M471.9 235.1 L473.1 235.1 L474.3 235.1 L475.5 235.1 L476.7 235.1 L477.9 235.1 L479.1 235.1 L480.3 235.1 L481.5 235.1 L482.7 235.1 L483.9 235.1 L485.1 235.1 L486.3 235.1 L487.5 235.1 L488.7 235.0 L489.9 235.0 L491.1 235.0 L492.3 235.0 L493.5 235.0 L494.7 235.0 L495.9 235.0 L497.1 235.0 L498.3 235.0 L499.5 235.0"/>
<path stroke-width="4.77" d="M497.1 235.0 L498.3 235.0 L499.5 235.0 L500.7 235.0 L501.9 235.0 L503.1 235.0 L504.3 235.0 L505.5 235.0 L506.7 235.0 L507.9 235.0 L509.1 235.0 L510.3 235.0 L511.5 235.0 L512.7 235.0 L513.9 235.0 L515.1 235.0 L516.3 235.0 L517.5 235.0 L518.7 235.0 L519.9 235.0 L521.1 235.0 L522.3 235.0 L523.5 235.0 L524.7 235.0"/>
<path stroke-width="4.63" d="M522.3 235.0 L523.5 235.0 L524.7 235.0 L525.9 235.0 L527.1 235.0 L528.3 235.0 L529.5 235.0 L530.7 235.0 L531.9 235.1 L533.1 235.1 L534.3 235.1 L535.5 235.1 L536.7 235.1 L537.9 235.1 L539.1 235.1 L540.3 235.2 L541.5 235.2 L542.7 235.2 L543.9 235.2 L545.1 235.2 L546.3 235.2 L547.5 235.3 L548.7 235.3 L549.9 235.3"/>
<path stroke-width="4.49" d="M546.3 235.2 L547.5 235.3 L548.7 235.3 L549.9 235.3 L551.1 235.3 L552.3 235.3 L553.5 235.4 L554.7 235.4 L555.9 235.4 L557.1 235.4 L558.3 235.4 L559.5 235.5 L560.7 235.5 L561.9 235.5 L563.1 235.5 L564.3 235.6 L565.5 235.6 L566.7 235.6 L567.9 235.6 L569.1 235.6 L570.3 235.7 L571.5 235.7 L572.7 235.7 L573.9 235.7"/>
<path stroke-width="4.35" d="M571.5 235.7 L572.7 235.7 L573.9 235.7 L575.1 235.7 L576.3 235.7 L577.5 235.8 L578.7 235.8 L579.9 235.8 L581.1 235.8 L582.3 235.8 L583.5 235.8 L584.7 235.9 L585.9 235.9 L587.1 235.9 L588.3 235.9 L589.5 235.9 L590.7 236.0 L591.9 236.0 L593.1 236.0 L594.3 236.0 L595.5 236.0 L596.7 236.1 L597.9 236.1 L599.1 236.1"/>
<path stroke-width="4.21" d="M596.7 236.1 L597.9 236.1 L599.1 236.1 L600.3 236.1 L601.5 236.1 L602.7 236.2 L603.9 236.2 L605.1 236.2 L606.3 236.2 L607.5 236.2 L608.7 236.3 L609.9 236.3 L611.1 236.3 L612.3 236.3 L613.5 236.3 L614.7 236.4 L615.9 236.4 L617.1 236.4 L618.3 236.4 L619.5 236.4 L620.7 236.4 L621.9 236.5 L623.1 236.5 L624.3 236.5"/>
<path stroke-width="4.07" d="M621.9 236.5 L623.1 236.5 L624.3 236.5 L625.5 236.5 L626.7 236.5 L627.9 236.5 L629.1 236.5 L630.3 236.5 L631.5 236.6 L632.7 236.6 L633.9 236.6 L635.1 236.6 L636.3 236.6 L637.5 236.6 L638.7 236.6 L639.9 236.6 L641.1 236.6 L642.3 236.6 L643.5 236.6 L644.7 236.6 L645.9 236.6 L647.1 236.6 L648.3 236.6 L649.5 236.6"/>
<path stroke-width="4.00" d="M647.1 236.6 L648.3 236.6 L649.5 236.6 L650.7 236.6 L651.9 236.5 L653.1 236.5 L654.3 236.5 L655.5 236.5 L656.7 236.5 L657.9 236.4 L659.1 236.4 L660.3 236.4 L661.5 236.4 L662.7 236.3 L663.9 236.3 L665.1 236.3 L666.3 236.3 L667.5 236.2 L668.7 236.2 L669.9 236.2 L671.1 236.1 L672.3 236.1 L673.5 236.1 L674.7 236.0 L675.9 236.0 L677.1 236.0 L678.3 236.0 L679.5 235.9 L680.7 235.9 L681.9 235.9 L683.1 235.8 L684.3 235.8 L685.5 235.8 L686.7 235.8 L687.9 235.7 L689.1 235.7 L690.3 235.7 L691.5 235.7 L692.7 235.7 L693.9 235.7 L695.1 235.6 L696.3 235.6 L697.5 235.6 L698.7 235.6 L699.9 235.6 L701.1 235.6 L702.3 235.6 L703.5 235.6 L704.7 235.6 L705.9 235.6 L707.1 235.6 L708.3 235.6 L709.5 235.6 L710.7 235.6 L711.9 235.6 L713.1 235.5 L714.3 235.5 L715.5 235.5 L716.7 235.5 L717.9 235.5 L719.1 235.5 L720.3 235.5 L721.5 235.5 L722.7 235.5 L723.9 235.5 L725.1 235.5 L726.3 235.5 L727.5 235.5 L728.7 235.5 L729.9 235.5 L731.1 235.5 L732.3 235.5 L733.5 235.5 L734.7 235.5 L735.9 235.5 L737.1 235.5 L738.3 235.5 L739.5 235.5 L740.7 235.5 L741.9 235.5 L743.1 235.5 L744.3 235.5 L745.5 235.4 L746.7 235.4 L747.9 235.4 L749.1 235.4 L750.3 235.4 L751.5 235.4 L752.7 235.4 L753.9 235.4 L755.1 235.4 L756.3 235.4 L757.5 235.4 L758.7 235.4 L759.9 235.4 L761.1 235.4 L762.3 235.4 L763.5 235.4 L764.7 235.4 L765.9 235.4 L767.1 235.4 L768.3 235.4 L769.5 235.4 L770.7 235.4 L771.9 235.4 L773.1 235.4 L774.3 235.4 L775.5 235.4 L776.7 235.4 L777.9 235.4 L779.1 235.4 L780.3 235.4 L781.5 235.4 L782.7 235.4 L783.9 235.4 L785.1 235.4"/>
<path stroke-width="4.80" d="M782.7 235.4 L783.9 235.4 L785.1 235.4 L789.5 389.0 L800.8 389.0 L804.6 238.8 L815.9 238.8 L819.6 108.5 L830.9 108.5 L834.7 217.0 L846.0 217.0 L849.7 243.5 L861.0 243.5 L864.8 239.9 L876.1 239.9 L879.9 237.2 L891.2 237.2 L894.9 249.9 L906.2 249.9 L910.0 235.4 L921.0 235.4"/>
</g>
<g stroke="#ff0000">
<path stroke-width="5.40" d="M114.3 171.9 L115.5 172.2 L116.7 172.6 L117.9 172.9 L119.1 173.2 L120.3 173.5 L121.5 173.7 L122.7 174.0 L123.9 174.2 L125.1 174.4 L126.3 174.6 L127.5 174.8 L128.7 175.0 L129.9 175.2 L131.1 175.3 L132.3 175.5 L133.5 175.7 L134.7 175.8 L135.9 175.9 L137.1 176.0 L138.3 176.0 L139.5 176.0 L140.7 176.0 L141.9 175.9 L143.1 175.9 L144.3 175.8 L145.5 175.8 L146.7 175.7 L147.9 175.6 L149.1 175.5 L150.3 175.4 L151.5 175.2 L152.7 175.1 L153.9 175.0 L155.1 174.8 L156.3 174.6 L157.5 174.3 L158.7 174.0 L159.9 173.7 L161.1 173.3 L162.3 172.9 L163.5 172.4 L164.7 171.8 L165.9 170.9 L167.1 169.6 L168.3 168.1 L169.5 166.3 L170.7 164.4 L171.9 162.5 L173.1 160.7 L174.3 158.9 L175.5 157.0 L176.7 155.0 L177.9 153.0 L179.1 150.9 L180.3 148.6 L181.5 146.3 L182.7 143.9 L183.9 141.3 L185.1 138.6 L186.3 135.8 L187.5 132.8 L188.7 129.7 L189.9 126.5 L191.1 123.2 L192.3 119.9 L193.5 116.5 L194.7 112.9 L195.9 109.2 L197.1 105.4 L198.3 101.5 L199.5 97.6 L200.7 93.5 L201.9 89.2 L203.1 84.4 L204.3 79.6 L205.5 75.2 L206.7 71.7 L207.9 68.8 L209.1 66.1 L210.3 63.9 L211.5 63.0 L212.7 63.6 L213.9 65.3 L215.1 67.8 L216.3 70.9 L217.5 75.5 L218.7 82.9 L219.9 91.7 L221.1 102.0 L222.3 114.6 L223.5 127.5 L224.7 139.3 L225.9 150.9 L227.1 162.7 L228.3 175.6 L229.5 189.2 L230.7 201.8 L231.9 212.5 L233.1 222.5 L234.3 231.5 L235.5 239.2 L236.7 245.7 L237.9 251.7 L239.1 256.7 L240.3 260.5 L241.5 263.0 L242.7 265.0 L243.9 266.5 L245.1 267.0 L246.3 266.4 L247.5 265.1 L248.7 263.2 L249.9 261.1 L251.1 258.7 L252.3 255.5 L253.5 251.4 L254.7 246.9 L255.9 242.3 L257.1 237.8 L258.3 233.6 L259.5 229.4 L260.7 225.2 L261.9 220.9 L263.1 216.7 L264.3 212.4 L265.5 208.3 L266.7 204.1 L267.9 200.1 L269.1 196.0 L270.3 192.0 L271.5 188.0 L272.7 184.1 L273.9 180.2 L275.1 176.4 L276.3 172.8 L277.5 169.2 L278.7 165.5 L279.9 161.9 L281.1 158.3 L282.3 155.2 L283.5 152.5 L284.7 150.5 L285.9 148.6 L287.1 146.9 L288.3 145.5 L289.5 144.7 L290.7 144.5 L291.9 145.1 L293.1 146.3 L294.3 147.9 L295.5 149.9 L296.7 152.1 L297.9 155.8 L299.1 160.8 L300.3 166.4 L301.5 172.1 L302.7 178.6 L303.9 185.9 L305.1 193.2 L306.3 200.1 L307.5 206.0 L308.7 211.4 L309.9 216.7 L311.1 221.4 L312.3 225.3 L313.5 228.0 L314.7 230.1 L315.9 232.0 L317.1 233.5 L318.3 234.5 L319.5 234.8 L320.7 234.3 L321.9 233.4 L323.1 232.0 L324.3 230.4 L325.5 228.7 L326.7 226.5 L327.9 223.6 L329.1 220.2 L330.3 216.6 L331.5 212.9 L332.7 209.4 L333.9 205.9 L335.1 202.1 L336.3 198.3 L337.5 194.5 L338.7 190.9 L339.9 187.6 L341.1 184.4 L342.3 181.3 L343.5 178.3 L344.7 175.5 L345.9 173.0 L347.1 170.9 L348.3 169.0 L349.5 167.3 L350.7 165.7 L351.9 164.3 L353.1 163.2 L354.3 162.3 L355.5 161.6 L356.7 160.9 L357.9 160.3 L359.1 159.8 L360.3 159.4 L361.5 159.3 L362.7 159.4 L363.9 159.7 L365.1 160.1 L366.3 160.7 L367.5 161.4 L368.7 162.1 L369.9 162.9 L371.1 163.7 L372.3 164.4 L373.5 165.1 L374.7 165.8 L375.9 166.7 L377.1 167.5 L378.3 168.5 L379.5 169.4 L380.7 170.2 L381.9 171.0 L383.1 171.7 L384.3 172.2 L385.5 172.6 L386.7 172.7 L387.9 172.7 L389.1 172.6 L390.3 172.5 L391.5 172.3 L392.7 172.1 L393.9 171.9 L395.1 171.7 L396.3 171.5 L397.5 171.3 L398.7 171.1 L399.9 170.9"/>
<path stroke-width="5.33" d="M396.3 171.5 L397.5 171.3 L398.7 171.1 L399.9 170.9 L401.1 170.8 L402.3 170.7 L403.5 170.7 L404.7 170.8 L405.9 171.1 L407.1 171.6 L408.3 172.2 L409.5 172.8 L410.7 173.5 L411.9 174.3 L413.1 175.0 L414.3 175.6 L415.5 176.2 L416.7 176.7 L417.9 177.1 L419.1 177.6 L420.3 178.0 L421.5 178.5 L422.7 178.9 L423.9 179.3"/>
<path stroke-width="5.19" d="M421.5 178.5 L422.7 178.9 L423.9 179.3 L425.1 179.6 L426.3 179.8 L427.5 180.0 L428.7 180.0 L429.9 179.8 L431.1 179.5 L432.3 179.1 L433.5 178.5 L434.7 177.9 L435.9 177.2 L437.1 176.6 L438.3 175.9 L439.5 175.2 L440.7 174.6 L441.9 174.0 L443.1 173.2 L444.3 172.4 L445.5 171.5 L446.7 170.7 L447.9 169.8 L449.1 169.0"/>
<path stroke-width="5.05" d="M446.7 170.7 L447.9 169.8 L449.1 169.0 L450.3 168.2 L451.5 167.5 L452.7 166.9 L453.9 166.3 L455.1 166.0 L456.3 165.7 L457.5 165.6 L458.7 165.6 L459.9 165.5 L461.1 165.5 L462.3 165.4 L463.5 165.4 L464.7 165.4 L465.9 165.4 L467.1 165.3 L468.3 165.3 L469.5 165.3 L470.7 165.3 L471.9 165.2 L473.1 165.2 L474.3 165.1"/>
<path stroke-width="4.91" d="M471.9 165.2 L473.1 165.2 L474.3 165.1 L475.5 165.1 L476.7 165.0 L477.9 164.9 L479.1 164.7 L480.3 164.3 L481.5 164.0 L482.7 163.5 L483.9 163.0 L485.1 162.5 L486.3 161.9 L487.5 161.3 L488.7 160.7 L489.9 160.1 L491.1 159.6 L492.3 159.0 L493.5 158.5 L494.7 158.0 L495.9 157.6 L497.1 157.2 L498.3 156.8 L499.5 156.5"/>
<path stroke-width="4.77" d="M497.1 157.2 L498.3 156.8 L499.5 156.5 L500.7 156.2 L501.9 156.0 L503.1 155.7 L504.3 155.4 L505.5 155.1 L506.7 154.8 L507.9 154.6 L509.1 154.2 L510.3 153.9 L511.5 153.5 L512.7 153.1 L513.9 152.6 L515.1 152.1 L516.3 151.6 L517.5 151.1 L518.7 150.7 L519.9 150.3 L521.1 150.0 L522.3 149.8 L523.5 149.8 L524.7 150.0"/>
<path stroke-width="4.63" d="M522.3 149.8 L523.5 149.8 L524.7 150.0 L525.9 150.5 L527.1 151.2 L528.3 152.1 L529.5 153.2 L530.7 154.3 L531.9 155.4 L533.1 156.5 L534.3 157.7 L535.5 159.3 L536.7 161.1 L537.9 162.9 L539.1 164.8 L540.3 166.5 L541.5 168.0 L542.7 169.1 L543.9 169.8 L545.1 170.4 L546.3 170.9 L547.5 171.4 L548.7 171.7 L549.9 171.8"/>
<path stroke-width="4.49" d="M546.3 170.9 L547.5 171.4 L548.7 171.7 L549.9 171.8 L551.1 171.8 L552.3 171.8 L553.5 171.8 L554.7 171.8 L555.9 171.8 L557.1 171.8 L558.3 171.8 L559.5 171.8 L560.7 171.8 L561.9 171.8 L563.1 171.8 L564.3 171.8 L565.5 171.8 L566.7 171.8 L567.9 171.8 L569.1 171.8 L570.3 171.8 L571.5 171.8 L572.7 171.8 L573.9 171.8"/>
<path stroke-width="4.35" d="M571.5 171.8 L572.7 171.8 L573.9 171.8 L575.1 171.8 L576.3 171.8 L577.5 171.8 L578.7 171.8 L579.9 171.8 L581.1 171.8 L582.3 171.8 L583.5 171.8 L584.7 171.8 L585.9 171.8 L587.1 171.8 L588.3 171.8 L589.5 171.8 L590.7 171.8 L591.9 171.8 L593.1 171.8 L594.3 171.8 L595.5 171.8 L596.7 171.8 L597.9 171.8 L599.1 171.8"/>
<path stroke-width="4.21" d="M596.7 171.8 L597.9 171.8 L599.1 171.8 L600.3 171.8 L601.5 171.8 L602.7 171.7 L603.9 171.7 L605.1 171.6 L606.3 171.5 L607.5 171.4 L608.7 171.2 L609.9 171.1 L611.1 171.0 L612.3 170.8 L613.5 170.6 L614.7 170.5 L615.9 170.3 L617.1 170.1 L618.3 169.9 L619.5 169.8 L620.7 169.6 L621.9 169.4 L623.1 169.3 L624.3 169.1"/>
<path stroke-width="4.07" d="M621.9 169.4 L623.1 169.3 L624.3 169.1 L625.5 169.0 L626.7 168.8 L627.9 168.6 L629.1 168.4 L630.3 168.1 L631.5 167.9 L632.7 167.7 L633.9 167.5 L635.1 167.3 L636.3 167.1 L637.5 166.9 L638.7 166.7 L639.9 166.6 L641.1 166.5 L642.3 166.4 L643.5 166.3 L644.7 166.3 L645.9 166.3 L647.1 166.4 L648.3 166.6 L649.5 166.9"/>
<path stroke-width="4.00" d="M647.1 166.4 L648.3 166.6 L649.5 166.9 L650.7 167.2 L651.9 167.5 L653.1 167.9 L654.3 168.3 L655.5 168.8 L656.7 169.2 L657.9 169.6 L659.1 170.0 L660.3 170.3 L661.5 170.7 L662.7 170.9 L663.9 171.1 L665.1 171.3 L666.3 171.3 L667.5 171.3 L668.7 171.3 L669.9 171.4 L671.1 171.4 L672.3 171.4 L673.5 171.4 L674.7 171.4 L675.9 171.5 L677.1 171.5 L678.3 171.5 L679.5 171.5 L680.7 171.5 L681.9 171.5 L683.1 171.5 L684.3 171.5 L685.5 171.5 L686.7 171.6 L687.9 171.6 L689.1 171.6 L690.3 171.6 L691.5 171.6 L692.7 171.6 L693.9 171.6 L695.1 171.6 L696.3 171.6 L697.5 171.6 L698.7 171.6 L699.9 171.6 L701.1 171.6 L702.3 171.6 L703.5 171.6 L704.7 171.6 L705.9 171.6 L707.1 171.6 L708.3 171.6 L709.5 171.6 L710.7 171.6 L711.9 171.6 L713.1 171.6 L714.3 171.6 L715.5 171.6 L716.7 171.6 L717.9 171.6 L719.1 171.6 L720.3 171.5 L721.5 171.5 L722.7 171.5 L723.9 171.5 L725.1 171.5 L726.3 171.5 L727.5 171.5 L728.7 171.5 L729.9 171.5 L731.1 171.5 L732.3 171.5 L733.5 171.5 L734.7 171.5 L735.9 171.5 L737.1 171.5 L738.3 171.5 L739.5 171.5 L740.7 171.5 L741.9 171.5 L743.1 171.5 L744.3 171.5 L745.5 171.5 L746.7 171.5 L747.9 171.4 L749.1 171.4 L750.3 171.4 L751.5 171.4 L752.7 171.4 L753.9 171.4 L755.1 171.4 L756.3 171.4 L757.5 171.4 L758.7 171.4 L759.9 171.4 L761.1 171.4 L762.3 171.4 L763.5 171.4 L764.7 171.4 L765.9 171.4 L767.1 171.4 L768.3 171.4 L769.5 171.4 L770.7 171.4 L771.9 171.4 L773.1 171.4 L774.3 171.3 L775.5 171.3 L776.7 171.3 L777.9 171.3 L779.1 171.3 L780.3 171.3 L781.5 171.3 L782.7 171.3 L783.9 171.3 L785.1 171.3"/>
<path stroke-width="4.80" d="M782.7 171.3 L783.9 171.3 L785.1 171.3 L789.5 166.6 L800.8 166.6 L804.6 169.6 L815.9 169.6 L819.6 175.7 L830.9 175.7 L834.7 171.6 L846.0 171.6 L849.7 171.6 L861.0 171.6 L864.8 171.6 L876.1 171.6 L879.9 171.6 L891.2 171.6 L894.9 171.6 L906.2 171.6 L910.0 171.6 L921.0 171.6"/>
</g>
</g>
<g class="tk">
<text transform="translate(108.3 846.7) scale(1.08 1)" text-anchor="end">-0.2</text>
<text transform="translate(108.3 755.9) scale(1.08 1)" text-anchor="end">0</text>
<text transform="translate(108.3 665.1) scale(1.08 1)" text-anchor="end">0.2</text>
<text transform="translate(108.3 574.2) scale(1.08 1)" text-anchor="end">0.4</text>
<text transform="translate(108.3 483.4) scale(1.08 1)" text-anchor="end">0.6</text>
<text transform="translate(108.3 392.5) scale(1.08 1)" text-anchor="end">0.8</text>
<text transform="translate(108.3 301.7) scale(1.08 1)" text-anchor="end">1</text>
<text transform="translate(108.3 210.9) scale(1.08 1)" text-anchor="end">1.2</text>
<text transform="translate(108.3 120.0) scale(1.08 1)" text-anchor="end">1.4</text>
<text transform="translate(108.3 29.2) scale(1.08 1)" text-anchor="end">1.6</text>
<text transform="translate(116.5 939.4) scale(1.087 1)" text-anchor="middle">1800</text>
<text transform="translate(265.5 939.4) scale(1.087 1)" text-anchor="middle">1600</text>
<text transform="translate(414.7 939.4) scale(1.087 1)" text-anchor="middle">1400</text>
<text transform="translate(564.2 939.4) scale(1.087 1)" text-anchor="middle">1200</text>
<text transform="translate(713.2 939.4) scale(1.087 1)" text-anchor="middle">1000</text>
</g>
<text class="lab" transform="translate(31.5 458.5) rotate(-90)" text-anchor="middle" font-size="36">Absorbance</text>
<text class="lab" x="480.2" y="990.3" font-size="37.2">cm</text>
<text class="lab" transform="translate(527.9 973.8) scale(0.86 1)" font-size="29">-1</text>
<text class="lab" transform="translate(805.2 952.2)" font-size="31.8" textLength="135.6" lengthAdjust="spacingAndGlyphs">Elements</text>
<clipPath id="clipA"><rect x="600" y="0" width="120" height="821"/></clipPath>
<g class="pc" clip-path="url(#clipA)">
<text x="622.5" y="167.0" textLength="80.0" lengthAdjust="spacingAndGlyphs">PC10</text>
<text x="622.5" y="261.2" textLength="59.8" lengthAdjust="spacingAndGlyphs">PC9</text>
<text x="622.5" y="355.4" textLength="59.8" lengthAdjust="spacingAndGlyphs">PC8</text>
<text x="622.5" y="449.6" textLength="59.8" lengthAdjust="spacingAndGlyphs">PC7</text>
<text x="622.5" y="543.8" textLength="59.8" lengthAdjust="spacingAndGlyphs">PC6</text>
<text x="622.5" y="638.0" textLength="59.8" lengthAdjust="spacingAndGlyphs">PC5</text>
<text x="622.5" y="732.2" textLength="59.8" lengthAdjust="spacingAndGlyphs">PC4</text>
<text x="622.5" y="826.4" textLength="59.8" lengthAdjust="spacingAndGlyphs">PC3</text>
</g>
<text class="bold" transform="translate(133.6 63.6) scale(0.95 1)" font-size="43.3">A.</text>
</g>
<g id="panelB">
<g stroke="#000" fill="none">
<path stroke-width="3.3" d="M1073.9 892.5 V10.4 H1632.4"/>
<path stroke-width="2.8" d="M1632.4 8.8 V892.5"/>
<path stroke-width="2.7" d="M1072.3000000000002 891.2 H1633.8000000000002"/>
<g stroke-width="2.7">
<path d="M1073.9 804.5 h6"/>
<path d="M1632.4 804.5 h-10.5"/>
<path d="M1073.9 720.9 h6"/>
<path d="M1632.4 720.9 h-10.5"/>
<path d="M1073.9 637.4 h6"/>
<path d="M1632.4 637.4 h-10.5"/>
<path d="M1073.9 553.8 h6"/>
<path d="M1632.4 553.8 h-10.5"/>
<path d="M1073.9 470.2 h6"/>
<path d="M1632.4 470.2 h-10.5"/>
<path d="M1073.9 386.7 h6"/>
<path d="M1632.4 386.7 h-10.5"/>
<path d="M1073.9 303.2 h6"/>
<path d="M1632.4 303.2 h-10.5"/>
<path d="M1073.9 219.6 h6"/>
<path d="M1632.4 219.6 h-10.5"/>
<path d="M1073.9 136.0 h6"/>
<path d="M1632.4 136.0 h-10.5"/>
<path d="M1073.9 52.5 h6"/>
<path d="M1632.4 52.5 h-10.5"/>
<path d="M1114.1 10.4 v8.2"/>
<path d="M1114.1 891.2 v-11.5"/>
<path d="M1193.8 10.4 v8.2"/>
<path d="M1193.8 891.2 v-11.5"/>
<path d="M1273.5 10.4 v8.2"/>
<path d="M1273.5 891.2 v-11.5"/>
<path d="M1353.3 10.4 v8.2"/>
<path d="M1353.3 891.2 v-11.5"/>
<path d="M1433.0 10.4 v8.2"/>
<path d="M1433.0 891.2 v-11.5"/>
<path d="M1512.7 10.4 v8.2"/>
<path d="M1512.7 891.2 v-11.5"/>
<path d="M1592.4 10.4 v8.2"/>
<path d="M1592.4 891.2 v-11.5"/>
</g></g>
<g fill="#00008f">
<rect x="1072.2" y="422.3" width="17.5" height="470.3"/>
<rect x="1095.1" y="759" width="34.4" height="133.6"/>
<rect x="1135.0" y="811" width="34.4" height="81.6"/>
<rect x="1174.8" y="827.2" width="34.4" height="65.4"/>
<rect x="1214.7" y="848" width="34.4" height="44.6"/>
<rect x="1254.5" y="861.2" width="34.4" height="31.4"/>
<rect x="1294.4" y="869.1" width="34.4" height="23.5"/>
<rect x="1334.3" y="877" width="34.4" height="15.6"/>
<rect x="1374.1" y="882.4" width="34.4" height="10.2"/>
<rect x="1414.0" y="887" width="34.4" height="5.6"/>
<rect x="1453.8" y="887" width="34.4" height="5.6"/>
<rect x="1493.7" y="887" width="34.4" height="5.6"/>
<rect x="1533.6" y="887" width="34.4" height="5.6"/>
<rect x="1573.4" y="887" width="34.4" height="5.6"/>
<rect x="1613.3" y="887" width="21.2" height="5.6"/>
</g>
<path fill="none" stroke="#c4202c" stroke-width="1.1" d="M1074.0 423.5 L1113.8 293.2 L1153.7 217.1 L1193.5 157.2 L1233.4 115.4 L1273.2 88.7 L1313.1 70.7 L1353.0 58.0 L1392.8 52.9 L1432.7 52.6 L1472.5 52.6 L1512.4 52.6 L1552.3 52.6 L1592.1 52.6 L1632.0 52.6"/>
<g fill="none" stroke="#ee0000" stroke-width="3.4">
<ellipse cx="1074.0" cy="423.5" rx="8.5" ry="10.2"/>
<ellipse cx="1113.8" cy="293.2" rx="8.5" ry="10.2"/>
<ellipse cx="1153.7" cy="217.1" rx="8.5" ry="10.2"/>
<ellipse cx="1193.5" cy="157.2" rx="8.5" ry="10.2"/>
<path d="M1240.04 109.05 A8.5 10.2 0 1 1 1225.44 111.78"/>
<path stroke="#c4202c" stroke-width="1.1" d="M1225.44 111.78 A8.5 10.2 0 0 1 1240.04 109.05"/>
<ellipse cx="1273.2" cy="88.7" rx="8.5" ry="10.2"/>
<ellipse cx="1313.1" cy="70.7" rx="8.5" ry="10.2"/>
<ellipse cx="1353.0" cy="58.0" rx="8.5" ry="10.2"/>
<ellipse cx="1392.8" cy="52.9" rx="8.5" ry="10.2"/>
<ellipse cx="1432.7" cy="52.6" rx="8.5" ry="10.2"/>
<ellipse cx="1472.5" cy="52.6" rx="8.5" ry="10.2"/>
<ellipse cx="1512.4" cy="52.6" rx="8.5" ry="10.2"/>
<ellipse cx="1552.3" cy="52.6" rx="8.5" ry="10.2"/>
<ellipse cx="1592.1" cy="52.6" rx="8.5" ry="10.2"/>
<ellipse cx="1632.0" cy="52.6" rx="8.5" ry="10.2"/>
</g>
<g class="tkb">
<text transform="translate(1067.3 901.0) scale(0.83 1)" text-anchor="end">0</text>
<text transform="translate(1067.3 817.1) scale(0.83 1)" text-anchor="end">0.1</text>
<text transform="translate(1067.3 733.2) scale(0.83 1)" text-anchor="end">0.2</text>
<text transform="translate(1067.3 649.2) scale(0.83 1)" text-anchor="end">0.3</text>
<text transform="translate(1067.3 565.3) scale(0.83 1)" text-anchor="end">0.4</text>
<text transform="translate(1067.3 481.4) scale(0.83 1)" text-anchor="end">0.5</text>
<text transform="translate(1067.3 397.5) scale(0.83 1)" text-anchor="end">0.6</text>
<text transform="translate(1067.3 313.6) scale(0.83 1)" text-anchor="end">0.7</text>
<text transform="translate(1067.3 229.6) scale(0.83 1)" text-anchor="end">0.8</text>
<text transform="translate(1067.3 145.7) scale(0.83 1)" text-anchor="end">0.9</text>
<text transform="translate(1067.3 61.8) scale(0.83 1)" text-anchor="end">1</text>
<text transform="translate(1114.7 929.6) scale(0.815 1)" text-anchor="middle">2</text>
<text transform="translate(1194.4 929.6) scale(0.815 1)" text-anchor="middle">4</text>
<text transform="translate(1274.1 929.6) scale(0.815 1)" text-anchor="middle">6</text>
<text transform="translate(1353.9 929.6) scale(0.815 1)" text-anchor="middle">8</text>
<text transform="translate(1433.6 929.6) scale(0.815 1)" text-anchor="middle">10</text>
<text transform="translate(1513.3 929.6) scale(0.815 1)" text-anchor="middle">12</text>
<text transform="translate(1593.0 929.6) scale(0.815 1)" text-anchor="middle">14</text>
</g>
<text class="lab" transform="translate(1351.4 973.7) scale(0.835 1)" text-anchor="middle" font-size="33.2">PC#</text>
<text class="lab" transform="translate(1012.2 455) rotate(-90) scale(1 0.89)" text-anchor="middle" font-size="33">Explained variance</text>
<text class="bold" transform="translate(1108.6 63.1) scale(0.93 1)" font-size="41.3">B.</text>
</g>
</svg>
</body>
</html>
